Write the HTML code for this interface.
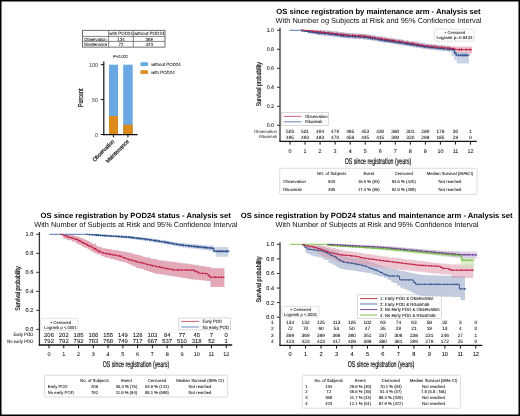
<!DOCTYPE html>
<html><head><meta charset="utf-8"><style>
html,body{margin:0;padding:0;background:#fff;width:520px;height:416px;overflow:hidden}
svg{display:block;position:absolute;left:0;top:0;will-change:transform}
.frame{position:absolute;left:0;top:0;width:520px;height:416px;box-sizing:border-box;border:1.7px solid #000}
</style></head><body>
<svg width="520" height="416" viewBox="0 0 520 416">
<g font-family='"Liberation Sans", sans-serif' text-rendering="geometricPrecision">
<rect x="0.00" y="0.00" width="520.00" height="416.00" fill="#fff"/>
<rect x="82.60" y="30.30" width="82.40" height="16.80" fill="none" stroke="#4a4a4a" stroke-width="0.8"/>
<line x1="82.60" y1="36.40" x2="165.00" y2="36.40" stroke="#555" stroke-width="0.7"/>
<line x1="82.60" y1="41.40" x2="165.00" y2="41.40" stroke="#555" stroke-width="0.7"/>
<line x1="108.60" y1="30.30" x2="108.60" y2="47.10" stroke="#555" stroke-width="0.7"/>
<line x1="133.30" y1="30.30" x2="133.30" y2="47.10" stroke="#555" stroke-width="0.7"/>
<text x="121.00" y="35.00" font-size="4.58" text-anchor="middle" textLength="23.5" lengthAdjust="spacingAndGlyphs" stroke="#222" stroke-width="0.04">with POD24</text>
<text x="149.20" y="35.00" font-size="4.58" text-anchor="middle" textLength="30.5" lengthAdjust="spacingAndGlyphs" stroke="#222" stroke-width="0.04">without POD24</text>
<text x="84.20" y="40.50" font-size="4.58" textLength="22.5" lengthAdjust="spacingAndGlyphs" stroke="#222" stroke-width="0.04">Observation</text>
<text x="121.00" y="40.50" font-size="4.58" text-anchor="middle" textLength="7.34" lengthAdjust="spacingAndGlyphs" stroke="#222" stroke-width="0.04">134</text>
<text x="149.20" y="40.50" font-size="4.58" text-anchor="middle" textLength="7.34" lengthAdjust="spacingAndGlyphs" stroke="#222" stroke-width="0.04">369</text>
<text x="84.20" y="45.60" font-size="4.58" textLength="23.0" lengthAdjust="spacingAndGlyphs" stroke="#222" stroke-width="0.04">Maintenance</text>
<text x="121.00" y="45.60" font-size="4.58" text-anchor="middle" textLength="4.89" lengthAdjust="spacingAndGlyphs" stroke="#222" stroke-width="0.04">72</text>
<text x="149.20" y="45.60" font-size="4.58" text-anchor="middle" textLength="7.34" lengthAdjust="spacingAndGlyphs" stroke="#222" stroke-width="0.04">423</text>
<text x="120.50" y="57.50" font-size="4.16" text-anchor="middle" textLength="15.01" lengthAdjust="spacingAndGlyphs" font-style="italic" stroke="#222" stroke-width="0.04">P&lt;0.001</text>
<rect x="109.00" y="64.70" width="9.00" height="69.80" fill="#69a8e0"/>
<rect x="109.00" y="116.00" width="9.00" height="18.50" fill="#dc8a1c"/>
<rect x="123.20" y="64.70" width="9.50" height="69.80" fill="#69a8e0"/>
<rect x="123.20" y="124.70" width="9.50" height="9.80" fill="#dc8a1c"/>
<line x1="103.80" y1="61.50" x2="103.80" y2="135.20" stroke="#111" stroke-width="1.2"/>
<line x1="103.20" y1="134.60" x2="137.60" y2="134.60" stroke="#111" stroke-width="1.2"/>
<line x1="100.80" y1="64.70" x2="103.80" y2="64.70" stroke="#111" stroke-width="1.0"/>
<text x="98.00" y="66.70" font-size="5.62" text-anchor="end" fill="#444" textLength="9.01" lengthAdjust="spacingAndGlyphs" stroke="#444" stroke-width="0.04">100</text>
<line x1="100.80" y1="99.60" x2="103.80" y2="99.60" stroke="#111" stroke-width="1.0"/>
<text x="98.00" y="101.60" font-size="5.62" text-anchor="end" fill="#444" textLength="6.01" lengthAdjust="spacingAndGlyphs" stroke="#444" stroke-width="0.04">50</text>
<line x1="100.80" y1="134.50" x2="103.80" y2="134.50" stroke="#111" stroke-width="1.0"/>
<text x="98.00" y="136.50" font-size="5.62" text-anchor="end" fill="#444" textLength="3.0" lengthAdjust="spacingAndGlyphs" stroke="#444" stroke-width="0.04">0</text>
<line x1="113.40" y1="134.60" x2="113.40" y2="137.40" stroke="#111" stroke-width="1.0"/>
<line x1="127.90" y1="134.60" x2="127.90" y2="137.40" stroke="#111" stroke-width="1.0"/>
<text x="83.20" y="97.80" font-size="7.2" text-anchor="middle" font-weight="500" fill="#111" textLength="18.5" lengthAdjust="spacingAndGlyphs" transform="rotate(-90 83.20 97.80)" stroke="#111" stroke-width="0.2">Percent</text>
<text x="114.80" y="141.80" font-size="5.6" text-anchor="end" font-weight="500" textLength="28.5" lengthAdjust="spacingAndGlyphs" transform="rotate(-45 114.80 141.80)" stroke="#222" stroke-width="0.2">Observation</text>
<text x="129.30" y="142.00" font-size="5.6" text-anchor="end" font-weight="500" textLength="30.2" lengthAdjust="spacingAndGlyphs" transform="rotate(-45 129.30 142.00)" stroke="#222" stroke-width="0.2">Maintenance</text>
<rect x="140.50" y="62.20" width="7.40" height="3.90" fill="#69a8e0"/>
<rect x="140.50" y="70.20" width="7.40" height="3.70" fill="#dc8a1c"/>
<text x="151.20" y="65.80" font-size="4.58" textLength="29.5" lengthAdjust="spacingAndGlyphs" stroke="#222" stroke-width="0.04">without POD24</text>
<text x="151.20" y="73.70" font-size="4.58" textLength="23.5" lengthAdjust="spacingAndGlyphs" stroke="#222" stroke-width="0.04">with POD24</text>
<text x="378.50" y="13.50" font-size="7.6" text-anchor="middle" font-weight="bold" fill="#000" textLength="204.3" lengthAdjust="spacingAndGlyphs">OS since registration by maintenance arm - Analysis set</text>
<text x="378.50" y="22.50" font-size="7.4" text-anchor="middle" fill="#111" textLength="206" lengthAdjust="spacingAndGlyphs">With Number og Subjects at Risk and 95% Confidence Interval</text>
<line x1="280.00" y1="27.80" x2="280.00" y2="141.40" stroke="#333" stroke-width="1.3"/>
<line x1="277.00" y1="125.30" x2="280.00" y2="125.30" stroke="#333" stroke-width="1.0"/>
<text x="274.00" y="127.20" font-size="5.3" text-anchor="end" stroke="#222" stroke-width="0.04">0.0</text>
<line x1="277.00" y1="106.29" x2="280.00" y2="106.29" stroke="#333" stroke-width="1.0"/>
<text x="274.00" y="108.19" font-size="5.3" text-anchor="end" stroke="#222" stroke-width="0.04">0.2</text>
<line x1="277.00" y1="87.28" x2="280.00" y2="87.28" stroke="#333" stroke-width="1.0"/>
<text x="274.00" y="89.18" font-size="5.3" text-anchor="end" stroke="#222" stroke-width="0.04">0.4</text>
<line x1="277.00" y1="68.27" x2="280.00" y2="68.27" stroke="#333" stroke-width="1.0"/>
<text x="274.00" y="70.17" font-size="5.3" text-anchor="end" stroke="#222" stroke-width="0.04">0.6</text>
<line x1="277.00" y1="49.26" x2="280.00" y2="49.26" stroke="#333" stroke-width="1.0"/>
<text x="274.00" y="51.16" font-size="5.3" text-anchor="end" stroke="#222" stroke-width="0.04">0.8</text>
<line x1="277.00" y1="30.25" x2="280.00" y2="30.25" stroke="#333" stroke-width="1.0"/>
<text x="274.00" y="32.15" font-size="5.3" text-anchor="end" stroke="#222" stroke-width="0.04">1.0</text>
<text x="260.60" y="84.20" font-size="6.8" text-anchor="middle" font-weight="500" fill="#111" textLength="44.3" lengthAdjust="spacingAndGlyphs" transform="rotate(-90 260.60 84.20)" stroke="#111" stroke-width="0.2">Survival probability</text>
<line x1="279.40" y1="141.40" x2="476.80" y2="141.40" stroke="#111" stroke-width="1.3"/>
<line x1="290.00" y1="141.40" x2="290.00" y2="144.60" stroke="#111" stroke-width="1.0"/>
<text x="290.00" y="152.60" font-size="5.4" text-anchor="middle" stroke="#222" stroke-width="0.04">0</text>
<line x1="305.04" y1="141.40" x2="305.04" y2="144.60" stroke="#111" stroke-width="1.0"/>
<text x="305.04" y="152.60" font-size="5.4" text-anchor="middle" stroke="#222" stroke-width="0.04">1</text>
<line x1="320.08" y1="141.40" x2="320.08" y2="144.60" stroke="#111" stroke-width="1.0"/>
<text x="320.08" y="152.60" font-size="5.4" text-anchor="middle" stroke="#222" stroke-width="0.04">2</text>
<line x1="335.12" y1="141.40" x2="335.12" y2="144.60" stroke="#111" stroke-width="1.0"/>
<text x="335.12" y="152.60" font-size="5.4" text-anchor="middle" stroke="#222" stroke-width="0.04">3</text>
<line x1="350.16" y1="141.40" x2="350.16" y2="144.60" stroke="#111" stroke-width="1.0"/>
<text x="350.16" y="152.60" font-size="5.4" text-anchor="middle" stroke="#222" stroke-width="0.04">4</text>
<line x1="365.20" y1="141.40" x2="365.20" y2="144.60" stroke="#111" stroke-width="1.0"/>
<text x="365.20" y="152.60" font-size="5.4" text-anchor="middle" stroke="#222" stroke-width="0.04">5</text>
<line x1="380.24" y1="141.40" x2="380.24" y2="144.60" stroke="#111" stroke-width="1.0"/>
<text x="380.24" y="152.60" font-size="5.4" text-anchor="middle" stroke="#222" stroke-width="0.04">6</text>
<line x1="395.28" y1="141.40" x2="395.28" y2="144.60" stroke="#111" stroke-width="1.0"/>
<text x="395.28" y="152.60" font-size="5.4" text-anchor="middle" stroke="#222" stroke-width="0.04">7</text>
<line x1="410.32" y1="141.40" x2="410.32" y2="144.60" stroke="#111" stroke-width="1.0"/>
<text x="410.32" y="152.60" font-size="5.4" text-anchor="middle" stroke="#222" stroke-width="0.04">8</text>
<line x1="425.36" y1="141.40" x2="425.36" y2="144.60" stroke="#111" stroke-width="1.0"/>
<text x="425.36" y="152.60" font-size="5.4" text-anchor="middle" stroke="#222" stroke-width="0.04">9</text>
<line x1="440.40" y1="141.40" x2="440.40" y2="144.60" stroke="#111" stroke-width="1.0"/>
<text x="440.40" y="152.60" font-size="5.4" text-anchor="middle" stroke="#222" stroke-width="0.04">10</text>
<line x1="455.44" y1="141.40" x2="455.44" y2="144.60" stroke="#111" stroke-width="1.0"/>
<text x="455.44" y="152.60" font-size="5.4" text-anchor="middle" stroke="#222" stroke-width="0.04">11</text>
<line x1="470.48" y1="141.40" x2="470.48" y2="144.60" stroke="#111" stroke-width="1.0"/>
<text x="470.48" y="152.60" font-size="5.4" text-anchor="middle" stroke="#222" stroke-width="0.04">12</text>
<text x="378.00" y="163.50" font-size="8.4" text-anchor="middle" font-weight="500" fill="#111" textLength="66.6" lengthAdjust="spacingAndGlyphs" stroke="#111" stroke-width="0.2">OS since registration (years)</text>
<text x="290.00" y="133.00" font-size="4.8" text-anchor="middle" stroke="#222" stroke-width="0.04">503</text>
<text x="290.00" y="138.80" font-size="4.8" text-anchor="middle" stroke="#222" stroke-width="0.04">495</text>
<text x="305.04" y="133.00" font-size="4.8" text-anchor="middle" stroke="#222" stroke-width="0.04">501</text>
<text x="305.04" y="138.80" font-size="4.8" text-anchor="middle" stroke="#222" stroke-width="0.04">493</text>
<text x="320.08" y="133.00" font-size="4.8" text-anchor="middle" stroke="#222" stroke-width="0.04">494</text>
<text x="320.08" y="138.80" font-size="4.8" text-anchor="middle" stroke="#222" stroke-width="0.04">483</text>
<text x="335.12" y="133.00" font-size="4.8" text-anchor="middle" stroke="#222" stroke-width="0.04">479</text>
<text x="335.12" y="138.80" font-size="4.8" text-anchor="middle" stroke="#222" stroke-width="0.04">470</text>
<text x="350.16" y="133.00" font-size="4.8" text-anchor="middle" stroke="#222" stroke-width="0.04">465</text>
<text x="350.16" y="138.80" font-size="4.8" text-anchor="middle" stroke="#222" stroke-width="0.04">458</text>
<text x="365.20" y="133.00" font-size="4.8" text-anchor="middle" stroke="#222" stroke-width="0.04">453</text>
<text x="365.20" y="138.80" font-size="4.8" text-anchor="middle" stroke="#222" stroke-width="0.04">445</text>
<text x="380.24" y="133.00" font-size="4.8" text-anchor="middle" stroke="#222" stroke-width="0.04">430</text>
<text x="380.24" y="138.80" font-size="4.8" text-anchor="middle" stroke="#222" stroke-width="0.04">415</text>
<text x="395.28" y="133.00" font-size="4.8" text-anchor="middle" stroke="#222" stroke-width="0.04">380</text>
<text x="395.28" y="138.80" font-size="4.8" text-anchor="middle" stroke="#222" stroke-width="0.04">390</text>
<text x="410.32" y="133.00" font-size="4.8" text-anchor="middle" stroke="#222" stroke-width="0.04">301</text>
<text x="410.32" y="138.80" font-size="4.8" text-anchor="middle" stroke="#222" stroke-width="0.04">320</text>
<text x="425.36" y="133.00" font-size="4.8" text-anchor="middle" stroke="#222" stroke-width="0.04">289</text>
<text x="425.36" y="138.80" font-size="4.8" text-anchor="middle" stroke="#222" stroke-width="0.04">298</text>
<text x="440.40" y="133.00" font-size="4.8" text-anchor="middle" stroke="#222" stroke-width="0.04">178</text>
<text x="440.40" y="138.80" font-size="4.8" text-anchor="middle" stroke="#222" stroke-width="0.04">185</text>
<text x="455.44" y="133.00" font-size="4.8" text-anchor="middle" stroke="#222" stroke-width="0.04">30</text>
<text x="455.44" y="138.80" font-size="4.8" text-anchor="middle" stroke="#222" stroke-width="0.04">29</text>
<text x="470.48" y="133.00" font-size="4.8" text-anchor="middle" stroke="#222" stroke-width="0.04">1</text>
<text x="470.48" y="138.80" font-size="4.8" text-anchor="middle" stroke="#222" stroke-width="0.04">0</text>
<text x="277.00" y="132.90" font-size="4.37" text-anchor="end" fill="#333" textLength="23" lengthAdjust="spacingAndGlyphs" stroke="#333" stroke-width="0.04">Observation</text>
<text x="277.00" y="138.40" font-size="4.37" text-anchor="end" fill="#333" textLength="18" lengthAdjust="spacingAndGlyphs" stroke="#333" stroke-width="0.04">Rituximab</text>
<rect x="281.80" y="112.40" width="46.50" height="13.00" fill="#fff" stroke="#c8c8c8" stroke-width="0.7"/>
<line x1="283.80" y1="116.40" x2="301.40" y2="116.40" stroke="#d0607a" stroke-width="1.0"/>
<line x1="283.80" y1="121.80" x2="301.40" y2="121.80" stroke="#6a86b8" stroke-width="1.0"/>
<text x="305.00" y="117.90" font-size="4.34" textLength="22.5" lengthAdjust="spacingAndGlyphs" stroke="#222" stroke-width="0.04">Observation</text>
<text x="305.00" y="123.30" font-size="4.34" textLength="17.5" lengthAdjust="spacingAndGlyphs" stroke="#222" stroke-width="0.04">Rituximab</text>
<rect x="434.80" y="29.20" width="39.40" height="12.00" fill="#fff" stroke="#cfcfcf" stroke-width="0.6" rx="0.8"/>
<text x="454.50" y="34.20" font-size="4.26" text-anchor="middle" textLength="21" lengthAdjust="spacingAndGlyphs" stroke="#222" stroke-width="0.04">+ Censored</text>
<text x="454.50" y="39.40" font-size="4.26" text-anchor="middle" textLength="36.2" lengthAdjust="spacingAndGlyphs" stroke="#222" stroke-width="0.04">Logrank p=0.8433</text>
<g>
<path d="M290.00,30.30 L326.12,30.30 L326.12,30.57 L328.21,30.57 L328.21,30.80 L330.55,30.80 L330.55,31.05 L333.85,31.05 L333.85,31.43 L337.93,31.43 L337.93,31.92 L341.11,31.92 L341.11,32.31 L343.87,32.31 L343.87,32.64 L348.01,32.64 L348.01,33.03 L349.92,33.03 L349.92,33.15 L353.78,33.15 L353.78,33.39 L356.28,33.39 L356.28,33.55 L358.42,33.55 L358.42,33.68 L360.50,33.68 L360.50,33.82 L363.05,33.82 L363.05,33.98 L366.80,33.98 L366.80,34.41 L369.04,34.41 L369.04,34.78 L372.23,34.78 L372.23,35.32 L375.57,35.32 L375.57,35.89 L378.26,35.89 L378.26,36.34 L381.38,36.34 L381.38,36.81 L383.33,36.81 L383.33,37.10 L385.27,37.10 L385.27,37.39 L387.56,37.39 L387.56,37.74 L391.00,37.74 L391.00,38.25 L393.82,38.25 L393.82,38.67 L396.38,38.67 L396.38,39.06 L399.58,39.06 L399.58,39.54 L402.47,39.54 L402.47,39.98 L404.99,39.98 L404.99,40.39 L408.70,40.39 L408.70,41.01 L412.17,41.01 L412.17,41.58 L414.56,41.58 L414.56,41.97 L417.74,41.97 L417.74,42.50 L420.80,42.50 L420.80,43.01 L424.70,43.01 L424.70,43.65 L428.25,43.65 L428.25,44.02 L430.74,44.02 L430.74,44.27 L434.89,44.27 L434.89,44.69 L436.98,44.69 L436.98,44.90 L439.78,44.90 L439.78,45.18 L443.40,45.18 L443.40,45.54 L445.56,45.54 L445.56,45.76 L448.53,45.76 L448.53,46.06 L450.43,46.06 L450.43,46.26 L453.83,46.26 L453.83,46.51 L472.00,46.51 L472.00,53.70 L455.83,53.70 L455.83,51.83 L451.93,51.83 L451.93,51.43 L448.26,51.43 L448.26,51.03 L444.30,51.03 L444.30,50.84 L442.37,50.84 L442.37,50.50 L438.95,50.50 L438.95,50.17 L435.67,50.17 L435.67,49.86 L432.63,49.86 L432.63,49.52 L429.17,49.52 L429.17,49.11 L425.09,49.11 L425.09,48.59 L421.93,48.59 L421.93,48.15 L419.24,48.15 L419.24,47.69 L416.44,47.69 L416.44,47.39 L414.63,47.39 L414.63,46.98 L412.20,46.98 L412.20,46.45 L408.98,46.45 L408.98,45.96 L406.02,45.96 L406.02,45.57 L403.66,45.57 L403.66,45.20 L401.30,45.20 L401.30,44.86 L399.08,44.86 L399.08,44.54 L396.92,44.54 L396.92,43.92 L392.82,43.92 L392.82,43.34 L388.90,43.34 L388.90,42.94 L386.23,42.94 L386.23,42.52 L383.44,42.52 L383.44,42.15 L380.97,42.15 L380.97,41.55 L377.10,41.55 L377.10,40.91 L373.33,40.91 L373.33,40.25 L369.41,40.25 L369.41,39.72 L366.29,39.72 L366.29,39.40 L363.41,39.40 L363.41,39.27 L361.42,39.27 L361.42,39.03 L357.53,39.03 L357.53,38.86 L354.79,38.86 L354.79,38.70 L352.40,38.70 L352.40,38.57 L350.29,38.57 L350.29,38.34 L346.64,38.34 L346.64,38.14 L344.70,38.14 L344.70,37.89 L342.62,37.89 L342.62,37.62 L340.42,37.62 L340.42,37.27 L337.51,37.27 L337.51,37.04 L335.65,37.04 L335.65,36.63 L332.25,36.63 L332.25,36.34 L329.52,36.34 L329.52,36.07 L327.04,36.07 L327.04,35.67 L323.27,35.67 L323.27,35.23 L319.08,35.23 L319.08,34.82 L315.73,34.82 L315.73,33.75 L312.25,33.75 L312.25,33.15 L310.30,33.15 L310.30,32.11 L306.91,32.11 L306.91,31.21 L303.97,31.21 L303.97,30.30 L290.00,30.30 Z" fill="#e8b2c0" fill-opacity="0.8"/>
<path d="M290.00,30.30 L325.90,30.30 L325.90,30.55 L328.58,30.55 L328.58,30.84 L330.67,30.84 L330.67,31.06 L334.51,31.06 L334.51,31.50 L338.69,31.50 L338.69,32.01 L341.61,32.01 L341.61,32.37 L344.57,32.37 L344.57,32.73 L346.58,32.73 L346.58,32.94 L348.62,32.94 L348.62,33.07 L351.25,33.07 L351.25,33.23 L353.68,33.23 L353.68,33.39 L357.47,33.39 L357.47,33.62 L359.66,33.62 L359.66,33.76 L361.51,33.76 L361.51,33.88 L365.60,33.88 L365.60,34.20 L368.66,34.20 L368.66,34.72 L370.82,34.72 L370.82,35.08 L373.92,35.08 L373.92,35.61 L375.78,35.61 L375.78,35.92 L378.85,35.92 L378.85,36.44 L383.00,36.44 L383.00,37.06 L386.87,37.06 L386.87,37.63 L390.34,37.63 L390.34,38.15 L392.77,38.15 L392.77,38.52 L395.45,38.52 L395.45,38.92 L397.65,38.92 L397.65,39.25 L401.30,39.25 L401.30,39.80 L404.38,39.80 L404.38,40.29 L408.05,40.29 L408.05,40.90 L410.64,40.90 L410.64,41.33 L412.98,41.33 L412.98,41.71 L416.73,41.71 L416.73,42.33 L420.89,42.33 L420.89,43.02 L424.74,43.02 L424.74,43.66 L428.47,43.66 L428.47,44.05 L432.23,44.05 L432.23,44.42 L435.81,44.42 L435.81,44.78 L438.15,44.78 L438.15,45.02 L441.20,45.02 L441.20,45.32 L443.85,45.32 L443.85,45.58 L445.72,45.58 L445.72,45.77 L447.59,45.77 L447.59,45.96 L450.06,45.96 L450.06,47.55 L452.48,47.55 L452.48,49.39 L455.94,49.39 L455.94,52.00 L460.04,52.00 L460.04,52.50 L469.00,52.50 L469.00,63.50 L456.70,63.50 L456.70,59.70 L453.90,59.70 L453.90,56.29 L451.48,56.29 L451.48,51.78 L448.27,51.78 L448.27,51.19 L445.89,51.19 L445.89,50.94 L443.39,50.94 L443.39,50.70 L440.98,50.70 L440.98,50.47 L438.68,50.47 L438.68,50.09 L434.89,50.09 L434.89,49.70 L431.00,49.70 L431.00,49.42 L428.16,49.42 L428.16,48.95 L424.12,48.95 L424.12,48.45 L421.06,48.45 L421.06,47.89 L417.70,47.89 L417.70,47.21 L413.57,47.21 L413.57,46.91 L411.73,46.91 L411.73,46.56 L409.62,46.56 L409.62,46.04 L406.50,46.04 L406.50,45.61 L403.86,45.61 L403.86,45.07 L400.48,45.07 L400.48,44.45 L396.33,44.45 L396.33,43.88 L392.55,43.88 L392.55,43.56 L390.40,43.56 L390.40,43.00 L386.66,43.00 L386.66,42.41 L382.69,42.41 L382.69,42.09 L380.53,42.09 L380.53,41.77 L378.42,41.77 L378.42,41.40 L376.21,41.40 L376.21,40.80 L372.67,40.80 L372.67,40.11 L368.60,40.11 L368.60,39.64 L365.84,39.64 L365.84,39.38 L363.09,39.38 L363.09,39.12 L358.96,39.12 L358.96,38.88 L355.23,38.88 L355.23,38.72 L352.64,38.72 L352.64,38.49 L348.94,38.49 L348.94,38.35 L346.71,38.35 L346.71,38.03 L343.77,38.03 L343.77,37.59 L340.17,37.59 L340.17,37.14 L336.49,37.14 L336.49,36.66 L332.50,36.66 L332.50,36.29 L329.12,36.29 L329.12,36.08 L327.12,36.08 L327.12,35.69 L323.40,35.69 L323.40,35.33 L320.03,35.33 L320.03,35.01 L317.08,35.01 L317.08,34.06 L313.26,34.06 L313.26,32.85 L309.30,32.85 L309.30,31.83 L306.00,31.83 L306.00,31.13 L303.71,31.13 L303.71,30.44 L301.44,30.44 L301.44,30.30 L290.00,30.30 Z" fill="#b4c0d8" fill-opacity="0.7"/>
</g>
<path d="M289.6,30.3 H302" stroke="#4a6aa8" stroke-width="0.9"/>
<path d="M301.00,30.90 L303.65,30.90 L303.65,31.22 L305.52,31.22 L305.52,31.44 L308.19,31.44 L308.19,31.76 L310.19,31.76 L310.19,32.00 L312.24,32.00 L312.24,32.25 L314.28,32.25 L314.28,32.49 L315.51,32.49 L315.51,32.64 L317.41,32.64 L317.41,32.85 L318.91,32.85 L318.91,33.01 L320.11,33.01 L320.11,33.14 L322.59,33.14 L322.59,33.40 L324.07,33.40 L324.07,33.56 L326.02,33.56 L326.02,33.77 L328.39,33.77 L328.39,34.02 L330.48,34.02 L330.48,34.24 L332.20,34.24 L332.20,34.42 L334.23,34.42 L334.23,34.67 L336.32,34.67 L336.32,34.92 L338.77,34.92 L338.77,35.22 L340.14,35.22 L340.14,35.39 L342.24,35.39 L342.24,35.64 L343.83,35.64 L343.83,35.84 L345.48,35.84 L345.48,36.04 L347.91,36.04 L347.91,36.22 L349.92,36.22 L349.92,36.35 L352.02,36.35 L352.02,36.48 L354.44,36.48 L354.44,36.63 L357.10,36.63 L357.10,36.80 L359.01,36.80 L359.01,36.92 L361.19,36.92 L361.19,37.06 L363.20,37.06 L363.20,37.19 L365.22,37.19 L365.22,37.34 L367.53,37.34 L367.53,37.73 L369.45,37.73 L369.45,38.05 L371.50,38.05 L371.50,38.40 L373.47,38.40 L373.47,38.73 L376.17,38.73 L376.17,39.19 L378.49,39.19 L378.49,39.58 L381.09,39.58 L381.09,39.97 L383.80,39.97 L383.80,40.38 L385.42,40.38 L385.42,40.62 L387.51,40.62 L387.51,40.93 L390.22,40.93 L390.22,41.33 L392.77,41.33 L392.77,41.71 L394.19,41.71 L394.19,41.93 L395.58,41.93 L395.58,42.14 L397.49,42.14 L397.49,42.42 L398.80,42.42 L398.80,42.62 L400.39,42.62 L400.39,42.86 L401.71,42.86 L401.71,43.06 L403.98,43.06 L403.98,43.43 L406.43,43.43 L406.43,43.83 L409.07,43.83 L409.07,44.27 L410.51,44.27 L410.51,44.51 L412.86,44.51 L412.86,44.89 L415.12,44.89 L415.12,45.27 L416.54,45.27 L416.54,45.50 L419.16,45.50 L419.16,45.93 L421.91,45.93 L421.91,46.39 L423.46,46.39 L423.46,46.64 L426.18,46.64 L426.18,47.02 L428.02,47.02 L428.02,47.20 L430.00,47.20 L430.00,47.40 L432.78,47.40 L432.78,47.68 L435.31,47.68 L435.31,47.93 L436.77,47.93 L436.77,48.08 L438.66,48.08 L438.66,48.27 L440.69,48.27 L440.69,48.47 L442.43,48.47 L442.43,48.64 L443.94,48.64 L443.94,48.79 L445.65,48.79 L445.65,48.97 L448.01,48.97 L448.01,49.20 L449.24,49.20 L449.24,49.34 L451.33,49.34 L451.33,49.56 L453.23,49.56 L453.23,49.77 L454.46,49.77 L454.46,53.25 L456.19,53.25 L456.19,55.20 L469.50,55.20" fill="none" stroke="#274e8e" stroke-width="1.1"/>
<path d="M308.40,30.36V33.16M309.85,30.36V33.16M311.69,30.60V33.40M312.98,30.85V33.65M316.05,31.24V34.04M317.90,31.45V34.25M319.41,31.61V34.41M321.63,31.74V34.54M325.01,32.16V34.96M328.18,32.37V35.17M330.00,32.62V35.42M331.56,32.84V35.64M334.96,33.27V36.07M337.53,33.52V36.32M340.42,33.99V36.79M341.83,33.99V36.79M343.17,34.24V37.04M346.02,34.64V37.44M348.24,34.82V37.62M349.61,34.82V37.62M353.07,35.08V37.88M355.79,35.23V38.03M358.91,35.40V38.20M360.31,35.52V38.32M363.57,35.79V38.59M364.93,35.79V38.59M368.20,36.33V39.13M370.49,36.65V39.45M372.50,37.00V39.80M375.03,37.33V40.13M378.45,37.79V40.59M380.30,38.18V40.98M381.81,38.57V41.37M384.27,38.98V41.78M386.04,39.22V42.02M387.51,39.22V42.02M389.09,39.53V42.33M390.41,39.93V42.73M392.10,39.93V42.73M394.05,40.31V43.11M395.98,40.74V43.54M399.00,41.22V44.02M400.90,41.46V44.26M403.30,41.66V44.46M404.93,42.03V44.83M406.96,42.43V45.23M408.20,42.43V45.23M410.00,42.87V45.67M411.24,43.11V45.91M414.20,43.49V46.29M416.72,44.10V46.90M418.38,44.10V46.90M420.72,44.53V47.33M424.16,45.24V48.04M425.61,45.24V48.04M428.78,45.80V48.60M431.02,46.00V48.80M433.40,46.28V49.08M436.61,46.53V49.33M438.75,46.87V49.67M441.17,47.07V49.87M444.02,47.39V50.19M447.58,47.57V50.37M449.60,47.94V50.74M452.80,48.16V50.96M455.69,51.85V54.65M458.42,53.80V56.60M460.59,53.80V56.60M462.62,53.80V56.60M463.95,53.80V56.60M465.47,53.80V56.60M466.84,53.80V56.60" stroke="#274e8e" stroke-width="0.8" fill="none"/>
<path d="M301.00,29.80 L302.61,29.80 L302.61,29.99 L304.07,29.99 L304.07,30.17 L305.41,30.17 L305.41,30.33 L307.95,30.33 L307.95,30.63 L310.54,30.63 L310.54,30.95 L312.82,30.95 L312.82,31.22 L314.47,31.22 L314.47,31.42 L316.06,31.42 L316.06,31.61 L317.72,31.61 L317.72,31.78 L319.66,31.78 L319.66,31.99 L321.11,31.99 L321.11,32.14 L323.03,32.14 L323.03,32.35 L324.65,32.35 L324.65,32.52 L327.39,32.52 L327.39,32.81 L330.14,32.81 L330.14,33.10 L332.22,33.10 L332.22,33.33 L333.81,33.33 L333.81,33.52 L336.55,33.52 L336.55,33.85 L338.25,33.85 L338.25,34.06 L340.02,34.06 L340.02,34.27 L341.22,34.27 L341.22,34.42 L343.03,34.42 L343.03,34.64 L344.99,34.64 L344.99,34.88 L346.99,34.88 L346.99,35.06 L348.52,35.06 L348.52,35.16 L350.52,35.16 L350.52,35.29 L351.73,35.29 L351.73,35.36 L353.35,35.36 L353.35,35.46 L354.70,35.46 L354.70,35.55 L356.54,35.55 L356.54,35.67 L357.80,35.67 L357.80,35.75 L359.04,35.75 L359.04,35.82 L360.73,35.82 L360.73,35.93 L362.30,35.93 L362.30,36.03 L364.44,36.03 L364.44,36.16 L366.48,36.16 L366.48,36.45 L368.88,36.45 L368.88,36.86 L371.14,36.86 L371.14,37.24 L373.48,37.24 L373.48,37.63 L376.09,37.63 L376.09,38.08 L377.91,38.08 L377.91,38.38 L379.63,38.38 L379.63,38.65 L382.41,38.65 L382.41,39.07 L383.85,39.07 L383.85,39.28 L386.21,39.28 L386.21,39.63 L388.44,39.63 L388.44,39.97 L389.71,39.97 L389.71,40.16 L392.24,40.16 L392.24,40.54 L394.87,40.54 L394.87,40.93 L397.07,40.93 L397.07,41.26 L399.45,41.26 L399.45,41.62 L401.95,41.62 L401.95,41.99 L403.37,41.99 L403.37,42.23 L405.41,42.23 L405.41,42.56 L407.41,42.56 L407.41,42.89 L409.95,42.89 L409.95,43.31 L412.44,43.31 L412.44,43.72 L414.96,43.72 L414.96,44.14 L417.09,44.14 L417.09,44.49 L419.72,44.49 L419.72,44.93 L422.02,44.93 L422.02,45.31 L424.33,45.31 L424.33,45.69 L425.89,45.69 L425.89,45.89 L427.14,45.89 L427.14,46.01 L428.56,46.01 L428.56,46.16 L430.33,46.16 L430.33,46.33 L431.70,46.33 L431.70,46.47 L434.24,46.47 L434.24,46.72 L436.33,46.72 L436.33,46.93 L438.54,46.93 L438.54,47.15 L440.74,47.15 L440.74,47.37 L443.03,47.37 L443.03,47.60 L445.01,47.60 L445.01,47.80 L446.22,47.80 L446.22,47.92 L448.69,47.92 L448.69,48.18 L451.09,48.18 L451.09,48.44 L453.09,48.44 L453.09,48.66 L455.15,48.66 L455.15,49.60 L472.00,49.60" fill="none" stroke="#c0143c" stroke-width="0.9"/>
<path d="M313.60,29.92V32.52M317.18,30.31V32.91M320.36,30.69V33.29M323.88,31.05V33.65M328.14,31.51V34.11M332.70,32.03V34.63M336.72,32.55V35.15M340.84,32.97V35.57M342.92,33.12V35.72M345.25,33.58V36.18M347.96,33.76V36.36M352.44,34.06V36.66M355.33,34.25V36.85M359.18,34.52V37.12M361.02,34.63V37.23M363.04,34.73V37.33M365.81,34.86V37.46M370.03,35.56V38.16M374.32,36.33V38.93M378.55,37.08V39.68M381.40,37.35V39.95M385.06,37.98V40.58M388.53,38.67V41.27M392.01,38.86V41.46M394.24,39.24V41.84M399.25,39.96V42.56M401.77,40.32V42.92M407.09,41.26V43.86M412.26,42.01V44.61M414.13,42.42V45.02M417.58,43.19V45.79M422.33,44.01V46.61M427.61,44.71V47.31M431.03,45.03V47.63M433.80,45.17V47.77M436.35,45.63V48.23M441.56,46.07V48.67M444.12,46.30V48.90M448.01,46.62V49.22M450.32,46.88V49.48M454.01,47.36V49.96M459.24,48.30V50.90M461.51,48.30V50.90M466.27,48.30V50.90M469.90,48.30V50.90" stroke="#c0143c" stroke-width="0.8" fill="none"/>
<rect x="279.70" y="168.30" width="197.30" height="26.10" fill="#fff" stroke="#cfcfcf" stroke-width="0.7" rx="1"/>
<text x="331.60" y="174.70" font-size="4.37" text-anchor="middle" textLength="29.41" lengthAdjust="spacingAndGlyphs" stroke="#222" stroke-width="0.04">NO. of Subjects</text>
<text x="368.80" y="174.70" font-size="4.37" text-anchor="middle" textLength="10.74" lengthAdjust="spacingAndGlyphs" stroke="#222" stroke-width="0.04">Event</text>
<text x="403.80" y="174.70" font-size="4.37" text-anchor="middle" textLength="18.21" lengthAdjust="spacingAndGlyphs" stroke="#222" stroke-width="0.04">Censored</text>
<text x="450.00" y="174.70" font-size="4.37" text-anchor="middle" textLength="46.45" lengthAdjust="spacingAndGlyphs" stroke="#222" stroke-width="0.04">Median Survival (95%CI)</text>
<text x="283.20" y="182.60" font-size="4.37" textLength="22.65" lengthAdjust="spacingAndGlyphs" stroke="#222" stroke-width="0.04">Observation</text>
<text x="283.20" y="190.80" font-size="4.37" textLength="18.67" lengthAdjust="spacingAndGlyphs" stroke="#222" stroke-width="0.04">Rituximab</text>
<text x="331.60" y="182.60" font-size="4.37" text-anchor="middle" textLength="7.01" lengthAdjust="spacingAndGlyphs" stroke="#222" stroke-width="0.04">503</text>
<text x="368.80" y="182.60" font-size="4.37" text-anchor="middle" textLength="21.71" lengthAdjust="spacingAndGlyphs" stroke="#222" stroke-width="0.04">16.5 % (83)</text>
<text x="403.80" y="182.60" font-size="4.37" text-anchor="middle" textLength="24.05" lengthAdjust="spacingAndGlyphs" stroke="#222" stroke-width="0.04">83.5 % (420)</text>
<text x="450.00" y="182.60" font-size="4.37" text-anchor="middle" textLength="22.88" lengthAdjust="spacingAndGlyphs" stroke="#222" stroke-width="0.04">Not reached</text>
<text x="331.60" y="190.80" font-size="4.37" text-anchor="middle" textLength="7.01" lengthAdjust="spacingAndGlyphs" stroke="#222" stroke-width="0.04">495</text>
<text x="368.80" y="190.80" font-size="4.37" text-anchor="middle" textLength="21.71" lengthAdjust="spacingAndGlyphs" stroke="#222" stroke-width="0.04">17.4 % (86)</text>
<text x="403.80" y="190.80" font-size="4.37" text-anchor="middle" textLength="24.05" lengthAdjust="spacingAndGlyphs" stroke="#222" stroke-width="0.04">82.6 % (409)</text>
<text x="450.00" y="190.80" font-size="4.37" text-anchor="middle" textLength="22.88" lengthAdjust="spacingAndGlyphs" stroke="#222" stroke-width="0.04">Not reached</text>
<text x="135.75" y="217.50" font-size="7.6" text-anchor="middle" font-weight="bold" fill="#000" textLength="190.3" lengthAdjust="spacingAndGlyphs">OS since registration by POD24 status - Analysis set</text>
<text x="135.85" y="226.70" font-size="7.4" text-anchor="middle" fill="#111" textLength="203.3" lengthAdjust="spacingAndGlyphs">With Number of Subjects at Risk and 95% Confidence Interval</text>
<line x1="39.40" y1="232.00" x2="39.40" y2="345.60" stroke="#333" stroke-width="1.3"/>
<line x1="36.20" y1="329.40" x2="39.40" y2="329.40" stroke="#333" stroke-width="1.0"/>
<text x="33.40" y="331.40" font-size="5.6" text-anchor="end" stroke="#222" stroke-width="0.04">0.0</text>
<line x1="36.20" y1="310.38" x2="39.40" y2="310.38" stroke="#333" stroke-width="1.0"/>
<text x="33.40" y="312.38" font-size="5.6" text-anchor="end" stroke="#222" stroke-width="0.04">0.2</text>
<line x1="36.20" y1="291.36" x2="39.40" y2="291.36" stroke="#333" stroke-width="1.0"/>
<text x="33.40" y="293.36" font-size="5.6" text-anchor="end" stroke="#222" stroke-width="0.04">0.4</text>
<line x1="36.20" y1="272.34" x2="39.40" y2="272.34" stroke="#333" stroke-width="1.0"/>
<text x="33.40" y="274.34" font-size="5.6" text-anchor="end" stroke="#222" stroke-width="0.04">0.6</text>
<line x1="36.20" y1="253.32" x2="39.40" y2="253.32" stroke="#333" stroke-width="1.0"/>
<text x="33.40" y="255.32" font-size="5.6" text-anchor="end" stroke="#222" stroke-width="0.04">0.8</text>
<line x1="36.20" y1="234.30" x2="39.40" y2="234.30" stroke="#333" stroke-width="1.0"/>
<text x="33.40" y="236.30" font-size="5.6" text-anchor="end" stroke="#222" stroke-width="0.04">1.0</text>
<text x="19.60" y="288.50" font-size="6.8" text-anchor="middle" font-weight="500" fill="#111" textLength="44.3" lengthAdjust="spacingAndGlyphs" transform="rotate(-90 19.60 288.50)" stroke="#111" stroke-width="0.2">Survival probability</text>
<line x1="38.80" y1="345.00" x2="232.20" y2="345.00" stroke="#111" stroke-width="1.3"/>
<line x1="49.00" y1="345.00" x2="49.00" y2="348.20" stroke="#111" stroke-width="1.0"/>
<text x="49.00" y="356.30" font-size="5.5" text-anchor="middle" stroke="#222" stroke-width="0.04">0</text>
<line x1="63.77" y1="345.00" x2="63.77" y2="348.20" stroke="#111" stroke-width="1.0"/>
<text x="63.77" y="356.30" font-size="5.5" text-anchor="middle" stroke="#222" stroke-width="0.04">1</text>
<line x1="78.54" y1="345.00" x2="78.54" y2="348.20" stroke="#111" stroke-width="1.0"/>
<text x="78.54" y="356.30" font-size="5.5" text-anchor="middle" stroke="#222" stroke-width="0.04">2</text>
<line x1="93.31" y1="345.00" x2="93.31" y2="348.20" stroke="#111" stroke-width="1.0"/>
<text x="93.31" y="356.30" font-size="5.5" text-anchor="middle" stroke="#222" stroke-width="0.04">3</text>
<line x1="108.08" y1="345.00" x2="108.08" y2="348.20" stroke="#111" stroke-width="1.0"/>
<text x="108.08" y="356.30" font-size="5.5" text-anchor="middle" stroke="#222" stroke-width="0.04">4</text>
<line x1="122.85" y1="345.00" x2="122.85" y2="348.20" stroke="#111" stroke-width="1.0"/>
<text x="122.85" y="356.30" font-size="5.5" text-anchor="middle" stroke="#222" stroke-width="0.04">5</text>
<line x1="137.62" y1="345.00" x2="137.62" y2="348.20" stroke="#111" stroke-width="1.0"/>
<text x="137.62" y="356.30" font-size="5.5" text-anchor="middle" stroke="#222" stroke-width="0.04">6</text>
<line x1="152.39" y1="345.00" x2="152.39" y2="348.20" stroke="#111" stroke-width="1.0"/>
<text x="152.39" y="356.30" font-size="5.5" text-anchor="middle" stroke="#222" stroke-width="0.04">7</text>
<line x1="167.16" y1="345.00" x2="167.16" y2="348.20" stroke="#111" stroke-width="1.0"/>
<text x="167.16" y="356.30" font-size="5.5" text-anchor="middle" stroke="#222" stroke-width="0.04">8</text>
<line x1="181.93" y1="345.00" x2="181.93" y2="348.20" stroke="#111" stroke-width="1.0"/>
<text x="181.93" y="356.30" font-size="5.5" text-anchor="middle" stroke="#222" stroke-width="0.04">9</text>
<line x1="196.70" y1="345.00" x2="196.70" y2="348.20" stroke="#111" stroke-width="1.0"/>
<text x="196.70" y="356.30" font-size="5.5" text-anchor="middle" stroke="#222" stroke-width="0.04">10</text>
<line x1="211.47" y1="345.00" x2="211.47" y2="348.20" stroke="#111" stroke-width="1.0"/>
<text x="211.47" y="356.30" font-size="5.5" text-anchor="middle" stroke="#222" stroke-width="0.04">11</text>
<line x1="226.24" y1="345.00" x2="226.24" y2="348.20" stroke="#111" stroke-width="1.0"/>
<text x="226.24" y="356.30" font-size="5.5" text-anchor="middle" stroke="#222" stroke-width="0.04">12</text>
<text x="136.00" y="367.10" font-size="8.4" text-anchor="middle" font-weight="500" fill="#111" textLength="66.6" lengthAdjust="spacingAndGlyphs" stroke="#111" stroke-width="0.2">OS since registration (years)</text>
<text x="49.00" y="336.60" font-size="5.9" text-anchor="middle" stroke="#222" stroke-width="0.04">206</text>
<text x="49.00" y="342.90" font-size="5.9" text-anchor="middle" stroke="#222" stroke-width="0.04">792</text>
<text x="63.77" y="336.60" font-size="5.9" text-anchor="middle" stroke="#222" stroke-width="0.04">202</text>
<text x="63.77" y="342.90" font-size="5.9" text-anchor="middle" stroke="#222" stroke-width="0.04">792</text>
<text x="78.54" y="336.60" font-size="5.9" text-anchor="middle" stroke="#222" stroke-width="0.04">185</text>
<text x="78.54" y="342.90" font-size="5.9" text-anchor="middle" stroke="#222" stroke-width="0.04">792</text>
<text x="93.31" y="336.60" font-size="5.9" text-anchor="middle" stroke="#222" stroke-width="0.04">166</text>
<text x="93.31" y="342.90" font-size="5.9" text-anchor="middle" stroke="#222" stroke-width="0.04">783</text>
<text x="108.08" y="336.60" font-size="5.9" text-anchor="middle" stroke="#222" stroke-width="0.04">155</text>
<text x="108.08" y="342.90" font-size="5.9" text-anchor="middle" stroke="#222" stroke-width="0.04">768</text>
<text x="122.85" y="336.60" font-size="5.9" text-anchor="middle" stroke="#222" stroke-width="0.04">149</text>
<text x="122.85" y="342.90" font-size="5.9" text-anchor="middle" stroke="#222" stroke-width="0.04">749</text>
<text x="137.62" y="336.60" font-size="5.9" text-anchor="middle" stroke="#222" stroke-width="0.04">128</text>
<text x="137.62" y="342.90" font-size="5.9" text-anchor="middle" stroke="#222" stroke-width="0.04">717</text>
<text x="152.39" y="336.60" font-size="5.9" text-anchor="middle" stroke="#222" stroke-width="0.04">103</text>
<text x="152.39" y="342.90" font-size="5.9" text-anchor="middle" stroke="#222" stroke-width="0.04">667</text>
<text x="167.16" y="336.60" font-size="5.9" text-anchor="middle" stroke="#222" stroke-width="0.04">84</text>
<text x="167.16" y="342.90" font-size="5.9" text-anchor="middle" stroke="#222" stroke-width="0.04">537</text>
<text x="181.93" y="336.60" font-size="5.9" text-anchor="middle" stroke="#222" stroke-width="0.04">77</text>
<text x="181.93" y="342.90" font-size="5.9" text-anchor="middle" stroke="#222" stroke-width="0.04">510</text>
<text x="196.70" y="336.60" font-size="5.9" text-anchor="middle" stroke="#222" stroke-width="0.04">45</text>
<text x="196.70" y="342.90" font-size="5.9" text-anchor="middle" stroke="#222" stroke-width="0.04">318</text>
<text x="211.47" y="336.60" font-size="5.9" text-anchor="middle" stroke="#222" stroke-width="0.04">7</text>
<text x="211.47" y="342.90" font-size="5.9" text-anchor="middle" stroke="#222" stroke-width="0.04">52</text>
<text x="226.24" y="336.60" font-size="5.9" text-anchor="middle" stroke="#222" stroke-width="0.04">0</text>
<text x="226.24" y="342.90" font-size="5.9" text-anchor="middle" stroke="#222" stroke-width="0.04">1</text>
<text x="33.20" y="336.30" font-size="4.78" text-anchor="end" textLength="19.8" lengthAdjust="spacingAndGlyphs" stroke="#222" stroke-width="0.04">Early POD</text>
<text x="33.20" y="342.60" font-size="4.78" text-anchor="end" textLength="26" lengthAdjust="spacingAndGlyphs" stroke="#222" stroke-width="0.04">No early POD</text>
<rect x="41.00" y="318.40" width="37.00" height="11.90" fill="#fff" stroke="#cfcfcf" stroke-width="0.6" rx="0.8"/>
<text x="60.50" y="323.60" font-size="4.37" text-anchor="middle" textLength="21" lengthAdjust="spacingAndGlyphs" stroke="#222" stroke-width="0.04">+ Censored</text>
<text x="60.50" y="328.60" font-size="4.37" text-anchor="middle" textLength="32.5" lengthAdjust="spacingAndGlyphs" stroke="#222" stroke-width="0.04">Logrank p &lt;.0001</text>
<rect x="178.80" y="318.00" width="51.70" height="11.90" fill="#fff" stroke="#c8c8c8" stroke-width="0.7"/>
<line x1="181.40" y1="321.40" x2="199.00" y2="321.40" stroke="#d0607a" stroke-width="1.0"/>
<line x1="181.40" y1="327.00" x2="199.00" y2="327.00" stroke="#6a86b8" stroke-width="1.0"/>
<text x="202.40" y="323.00" font-size="4.58" textLength="19.5" lengthAdjust="spacingAndGlyphs" stroke="#222" stroke-width="0.04">Early POD</text>
<text x="202.40" y="328.60" font-size="4.58" textLength="26.5" lengthAdjust="spacingAndGlyphs" stroke="#222" stroke-width="0.04">No early POD</text>
<path d="M60.20,234.30 L63.69,234.30 L63.69,234.40 L66.04,234.40 L66.04,234.47 L70.00,234.47 L70.00,235.06 L72.96,235.06 L72.96,235.62 L74.82,235.62 L74.82,235.97 L76.63,235.97 L76.63,236.65 L79.61,236.65 L79.61,237.85 L82.49,237.85 L82.49,239.00 L85.02,239.00 L85.02,240.01 L87.16,240.01 L87.16,241.08 L89.78,241.08 L89.78,242.39 L92.34,242.39 L92.34,243.69 L96.16,243.69 L96.16,245.84 L97.96,245.84 L97.96,246.85 L101.56,246.85 L101.56,248.23 L105.38,248.23 L105.38,248.81 L107.47,248.81 L107.47,249.12 L111.49,249.12 L111.49,249.75 L115.00,249.75 L115.00,250.33 L118.96,250.33 L118.96,250.99 L121.46,250.99 L121.46,251.41 L124.15,251.41 L124.15,251.86 L126.90,251.86 L126.90,252.47 L131.09,252.47 L131.09,253.52 L134.31,253.52 L134.31,254.33 L136.97,254.33 L136.97,255.01 L139.80,255.01 L139.80,255.75 L142.26,255.75 L142.26,256.39 L144.18,256.39 L144.18,256.89 L146.22,256.89 L146.22,257.42 L150.02,257.42 L150.02,258.41 L152.51,258.41 L152.51,259.06 L156.55,259.06 L156.55,259.81 L158.95,259.81 L158.95,260.13 L161.39,260.13 L161.39,260.46 L164.42,260.46 L164.42,260.86 L166.67,260.86 L166.67,261.16 L169.37,261.16 L169.37,261.52 L173.46,261.52 L173.46,262.08 L177.39,262.08 L177.39,262.63 L181.13,262.63 L181.13,263.16 L184.45,263.16 L184.45,263.62 L188.44,263.62 L188.44,264.18 L192.50,264.18 L192.50,264.75 L195.62,264.75 L195.62,265.19 L199.14,265.19 L199.14,265.68 L201.06,265.68 L201.06,265.96 L204.62,265.96 L204.62,266.49 L207.50,266.49 L207.50,266.93 L211.11,266.93 L211.11,268.20 L224.40,268.20 L224.40,286.90 L210.40,286.90 L210.40,280.90 L206.90,280.90 L206.90,280.72 L205.02,280.72 L205.02,280.55 L203.17,280.55 L203.17,280.18 L199.28,280.18 L199.28,279.82 L195.44,279.82 L195.44,279.40 L191.35,279.40 L191.35,278.94 L188.48,278.94 L188.48,278.50 L185.72,278.50 L185.72,278.12 L183.32,278.12 L183.32,277.73 L180.87,277.73 L180.87,277.36 L178.56,277.36 L178.56,276.75 L174.69,276.75 L174.69,276.22 L171.37,276.22 L171.37,275.74 L168.37,275.74 L168.37,275.41 L166.26,275.41 L166.26,274.76 L162.14,274.76 L162.14,274.37 L159.68,274.37 L159.68,274.06 L157.73,274.06 L157.73,273.64 L155.11,273.64 L155.11,272.94 L152.41,272.94 L152.41,271.99 L149.35,271.99 L149.35,271.11 L146.56,271.11 L146.56,270.24 L143.77,270.24 L143.77,269.12 L140.17,269.12 L140.17,267.89 L136.24,267.89 L136.24,266.54 L133.07,266.54 L133.07,265.33 L130.65,265.33 L130.65,264.14 L128.28,264.14 L128.28,263.13 L126.26,263.13 L126.26,262.18 L123.64,262.18 L123.64,261.71 L121.62,261.71 L121.62,261.18 L119.36,261.18 L119.36,260.69 L117.22,260.69 L117.22,260.01 L114.34,260.01 L114.34,259.04 L110.15,259.04 L110.15,257.85 L106.18,257.85 L106.18,257.16 L103.85,257.16 L103.85,256.26 L100.86,256.26 L100.86,254.44 L96.88,254.44 L96.88,253.29 L94.58,253.29 L94.58,252.20 L92.40,252.20 L92.40,251.10 L90.19,251.10 L90.19,249.60 L87.45,249.60 L87.45,247.87 L84.31,247.87 L84.31,246.48 L81.79,246.48 L81.79,244.79 L78.41,244.79 L78.41,243.70 L75.99,243.70 L75.99,241.83 L71.85,241.83 L71.85,240.35 L68.27,240.35 L68.27,239.41 L65.76,239.41 L65.76,238.42 L63.13,238.42 L63.13,235.00 L60.20,235.00 Z" fill="#e2a4b4" fill-opacity="0.95"/>
<path d="M86.00,234.30 L90.02,234.30 L90.02,234.46 L93.81,234.46 L93.81,234.62 L97.66,234.62 L97.66,234.77 L101.79,234.77 L101.79,234.94 L104.19,234.94 L104.19,235.04 L106.25,235.04 L106.25,235.12 L108.42,235.12 L108.42,235.21 L111.47,235.21 L111.47,235.33 L114.91,235.33 L114.91,235.47 L118.97,235.47 L118.97,235.63 L122.50,235.63 L122.50,235.78 L125.86,235.78 L125.86,235.91 L129.49,235.91 L129.49,236.17 L132.39,236.17 L132.39,236.50 L135.51,236.50 L135.51,236.85 L137.41,236.85 L137.41,237.07 L141.09,237.07 L141.09,237.49 L143.44,237.49 L143.44,237.76 L147.45,237.76 L147.45,238.21 L150.80,238.21 L150.80,238.59 L153.33,238.59 L153.33,238.88 L155.44,238.88 L155.44,239.12 L157.84,239.12 L157.84,239.44 L161.17,239.44 L161.17,239.97 L164.65,239.97 L164.65,240.53 L166.71,240.53 L166.71,240.86 L168.68,240.86 L168.68,241.18 L171.74,241.18 L171.74,241.67 L174.94,241.67 L174.94,242.19 L177.67,242.19 L177.67,242.63 L180.01,242.63 L180.01,243.00 L183.25,243.00 L183.25,243.31 L185.08,243.31 L185.08,243.48 L187.60,243.48 L187.60,243.72 L190.51,243.72 L190.51,243.99 L194.61,243.99 L194.61,244.36 L197.95,244.36 L197.95,244.64 L201.88,244.64 L201.88,244.96 L204.82,244.96 L204.82,245.20 L207.18,245.20 L207.18,245.40 L209.57,245.40 L209.57,245.60 L213.68,245.60 L213.68,247.00 L228.30,247.00 L228.30,256.80 L215.63,256.80 L215.63,250.95 L211.59,250.95 L211.59,250.70 L209.34,250.70 L209.34,250.40 L206.75,250.40 L206.75,249.94 L202.71,249.94 L202.71,249.46 L198.52,249.46 L198.52,249.06 L194.96,249.06 L194.96,248.60 L191.04,248.60 L191.04,248.14 L187.09,248.14 L187.09,247.81 L184.34,247.81 L184.34,247.58 L182.40,247.58 L182.40,247.36 L180.47,247.36 L180.47,246.99 L178.33,246.99 L178.33,246.21 L174.19,246.21 L174.19,245.78 L171.88,245.78 L171.88,245.27 L169.14,245.27 L169.14,244.87 L166.99,244.87 L166.99,244.11 L162.91,244.11 L162.91,243.47 L159.51,243.47 L159.51,242.96 L156.71,242.96 L156.71,242.60 L154.38,242.60 L154.38,242.26 L152.13,242.26 L152.13,241.81 L149.14,241.81 L149.14,241.19 L145.05,241.19 L145.05,240.81 L142.55,240.81 L142.55,240.26 L138.92,240.26 L138.92,239.90 L136.59,239.90 L136.59,239.55 L134.23,239.55 L134.23,238.97 L130.47,238.97 L130.47,238.59 L127.92,238.59 L127.92,238.20 L123.79,238.20 L123.79,237.98 L121.50,237.98 L121.50,237.69 L118.49,237.69 L118.49,237.35 L114.91,237.35 L114.91,237.00 L111.20,237.00 L111.20,236.78 L108.92,236.78 L108.92,236.46 L105.49,236.46 L105.49,236.19 L102.68,236.19 L102.68,235.94 L100.07,235.94 L100.07,235.76 L98.18,235.76 L98.18,235.54 L95.84,235.54 L95.84,235.15 L91.82,235.15 L91.82,234.83 L88.42,234.83 L88.42,234.60 L86.00,234.60 Z" fill="#c3cde0" fill-opacity="0.85"/>
<path d="M49.2,234.3 H88" stroke="#4a6aa8" stroke-width="0.9"/>
<path d="M86.00,234.40 L87.73,234.40 L87.73,234.52 L89.20,234.52 L89.20,234.62 L90.41,234.62 L90.41,234.71 L92.05,234.71 L92.05,234.82 L93.82,234.82 L93.82,234.94 L96.54,234.94 L96.54,235.13 L97.94,235.13 L97.94,235.23 L100.69,235.23 L100.69,235.41 L102.22,235.41 L102.22,235.51 L103.99,235.51 L103.99,235.63 L106.50,235.63 L106.50,235.79 L109.02,235.79 L109.02,235.96 L110.91,235.96 L110.91,236.08 L112.19,236.08 L112.19,236.16 L114.15,236.16 L114.15,236.29 L115.94,236.29 L115.94,236.41 L118.61,236.41 L118.61,236.59 L120.12,236.59 L120.12,236.68 L121.91,236.68 L121.91,236.80 L124.54,236.80 L124.54,236.97 L125.79,236.97 L125.79,237.06 L127.65,237.06 L127.65,237.18 L130.15,237.18 L130.15,237.45 L132.57,237.45 L132.57,237.73 L133.84,237.73 L133.84,237.88 L135.09,237.88 L135.09,238.02 L136.39,238.02 L136.39,238.17 L139.06,238.17 L139.06,238.48 L140.68,238.48 L140.68,238.67 L143.07,238.67 L143.07,238.95 L145.71,238.95 L145.71,239.33 L147.45,239.33 L147.45,239.59 L149.09,239.59 L149.09,239.83 L151.82,239.83 L151.82,240.23 L154.01,240.23 L154.01,240.56 L155.63,240.56 L155.63,240.80 L157.97,240.80 L157.97,241.17 L159.68,241.17 L159.68,241.47 L161.32,241.47 L161.32,241.75 L162.53,241.75 L162.53,241.96 L164.94,241.96 L164.94,242.38 L167.60,242.38 L167.60,242.84 L169.82,242.84 L169.82,243.23 L172.53,243.23 L172.53,243.70 L173.76,243.70 L173.76,243.92 L175.34,243.92 L175.34,244.19 L177.30,244.19 L177.30,244.53 L180.03,244.53 L180.03,245.00 L182.76,245.00 L182.76,245.30 L184.57,245.30 L184.57,245.50 L186.18,245.50 L186.18,245.68 L188.06,245.68 L188.06,245.89 L190.05,245.89 L190.05,246.11 L192.74,246.11 L192.74,246.40 L194.23,246.40 L194.23,246.55 L196.72,246.55 L196.72,246.80 L199.10,246.80 L199.10,247.03 L201.61,247.03 L201.61,247.28 L204.05,247.28 L204.05,247.52 L206.22,247.52 L206.22,247.73 L207.95,247.73 L207.95,247.90 L209.66,247.90 L209.66,248.07 L211.44,248.07 L211.44,248.24 L213.89,248.24 L213.89,251.30 L229.30,251.30" fill="none" stroke="#23478a" stroke-width="1.0"/>
<path d="M89.80,233.52V235.72M92.29,233.72V235.92M94.97,233.84V236.04M96.35,233.84V236.04M97.40,234.03V236.23M98.47,234.13V236.33M100.27,234.13V236.33M102.44,234.41V236.61M104.15,234.53V236.73M105.47,234.53V236.73M107.12,234.69V236.89M109.14,234.86V237.06M111.25,234.98V237.18M113.50,235.06V237.26M115.92,235.19V237.39M118.02,235.31V237.51M119.14,235.49V237.69M121.55,235.58V237.78M122.98,235.70V237.90M124.90,235.87V238.07M126.47,235.96V238.16M128.70,236.08V238.28M129.96,236.08V238.28M131.30,236.35V238.55M132.64,236.63V238.83M133.82,236.63V238.83M136.31,236.92V239.12M138.25,237.07V239.27M139.74,237.38V239.58M141.35,237.57V239.77M144.04,237.85V240.05M145.85,238.23V240.43M147.17,238.23V240.43M149.52,238.73V240.93M151.60,238.73V240.93M154.28,239.46V241.66M155.37,239.46V241.66M157.12,239.70V241.90M159.50,240.07V242.27M161.91,240.65V242.85M164.46,240.86V243.06M165.43,241.28V243.48M166.86,241.28V243.48M167.97,241.74V243.94M169.21,241.74V243.94M171.86,242.13V244.33M173.81,242.82V245.02M176.39,243.09V245.29M177.96,243.43V245.63M180.42,243.90V246.10M182.13,243.90V246.10M183.49,244.20V246.40M185.79,244.40V246.60M188.40,244.79V246.99M189.49,244.79V246.99M191.46,245.01V247.21M193.48,245.30V247.50M194.77,245.45V247.65M196.33,245.45V247.65M197.49,245.70V247.90M198.75,245.70V247.90M200.11,245.93V248.13M202.09,246.18V248.38M204.16,246.42V248.62M205.43,246.42V248.62M206.35,246.63V248.83M207.84,246.63V248.83M209.96,246.97V249.17M211.19,246.97V249.17M212.66,247.14V249.34M213.92,250.20V252.40M216.25,250.20V252.40M218.14,250.20V252.40M219.15,250.20V252.40M220.24,250.20V252.40M221.85,250.20V252.40M223.74,250.20V252.40M225.79,250.20V252.40M226.85,250.20V252.40M228.05,250.20V252.40" stroke="#23478a" stroke-width="0.8" fill="none"/>
<path d="M60.20,234.30 L62.06,234.30 L62.06,234.98 L63.71,234.98 L63.71,235.58 L65.40,235.58 L65.40,236.20 L68.13,236.20 L68.13,237.15 L69.83,237.15 L69.83,237.65 L71.93,237.65 L71.93,238.28 L73.70,238.28 L73.70,238.81 L75.57,238.81 L75.57,239.48 L78.15,239.48 L78.15,240.76 L80.95,240.76 L80.95,242.14 L82.73,242.14 L82.73,243.02 L84.25,243.02 L84.25,243.81 L86.61,243.81 L86.61,245.04 L88.14,245.04 L88.14,245.81 L89.35,245.81 L89.35,246.40 L91.99,246.40 L91.99,247.69 L93.87,247.69 L93.87,248.83 L96.38,248.83 L96.38,250.35 L98.23,250.35 L98.23,251.47 L100.84,251.47 L100.84,252.57 L102.78,252.57 L102.78,252.99 L104.24,252.99 L104.24,253.31 L105.46,253.31 L105.46,253.57 L107.54,253.57 L107.54,254.03 L109.77,254.03 L109.77,254.47 L112.43,254.47 L112.43,254.94 L113.77,254.94 L113.77,255.17 L115.96,255.17 L115.96,255.56 L117.76,255.56 L117.76,255.88 L119.76,255.88 L119.76,256.27 L121.20,256.27 L121.20,256.90 L122.85,256.90 L122.85,257.62 L124.88,257.62 L124.88,258.50 L127.57,258.50 L127.57,259.40 L128.94,259.40 L128.94,259.79 L130.92,259.79 L130.92,260.35 L133.41,260.35 L133.41,261.05 L136.16,261.05 L136.16,261.79 L137.67,261.79 L137.67,262.17 L139.08,262.17 L139.08,262.52 L141.79,262.52 L141.79,263.20 L144.55,263.20 L144.55,263.89 L146.52,263.89 L146.52,264.38 L147.80,264.38 L147.80,264.70 L150.49,264.70 L150.49,265.37 L152.31,265.37 L152.31,265.83 L154.95,265.83 L154.95,266.44 L157.15,266.44 L157.15,266.86 L159.67,266.86 L159.67,267.35 L161.12,267.35 L161.12,267.63 L163.58,267.63 L163.58,268.10 L165.13,268.10 L165.13,268.40 L166.98,268.40 L166.98,268.75 L169.54,268.75 L169.54,269.24 L172.06,269.24 L172.06,269.72 L173.56,269.72 L173.56,270.00 L178.97,270.00 L178.97,270.06 L183.78,270.06 L183.78,270.11 L188.77,270.11 L188.77,270.16 L194.55,270.16 L194.55,271.16 L195.81,271.16 L195.81,271.81 L198.35,271.81 L198.35,273.12 L199.74,273.12 L199.74,273.26 L201.90,273.26 L201.90,273.35 L203.98,273.35 L203.98,273.44 L206.18,273.44 L206.18,273.54 L207.87,273.54 L207.87,275.53 L209.75,275.53 L209.75,277.21 L217.93,277.21 L217.93,277.26 L224.40,277.26" fill="none" stroke="#c0143c" stroke-width="0.85"/>
<path d="M66.60,235.30V237.10M68.51,236.25V238.05M71.80,236.75V238.55M75.12,237.91V239.71M77.62,238.58V240.38M79.38,239.86V241.66M81.91,241.24V243.04M83.49,242.12V243.92M85.13,242.91V244.71M87.55,244.14V245.94M89.08,244.91V246.71M91.53,245.50V247.30M94.16,247.93V249.73M95.57,247.93V249.73M98.52,250.57V252.37M100.03,250.57V252.37M103.24,252.09V253.89M106.56,252.67V254.47M109.19,253.13V254.93M110.63,253.57V255.37M113.24,254.04V255.84M115.53,254.27V256.07M119.30,254.98V256.78M120.95,255.37V257.17M124.48,256.72V258.52M128.37,258.50V260.30M131.57,259.45V261.25M134.99,260.15V261.95M136.80,260.89V262.69M140.65,261.62V263.42M143.23,262.30V264.10M147.02,263.48V265.28M150.70,264.47V266.27M152.43,264.93V266.73M155.78,265.54V267.34M159.50,265.96V267.76M160.97,266.45V268.25M163.18,266.73V268.53M166.44,267.50V269.30M168.16,267.85V269.65M171.79,268.34V270.14M173.80,269.10V270.90M177.22,269.10V270.90M178.90,269.10V270.90M181.50,269.16V270.96M185.20,269.21V271.01M187.04,269.21V271.01M189.02,269.26V271.06M191.64,269.26V271.06M193.77,269.26V271.06M195.16,270.26V272.06M196.93,270.91V272.71M198.65,272.22V274.02M202.39,272.45V274.25M205.46,272.54V274.34M209.08,274.63V276.43M210.82,276.31V278.11M214.16,276.31V278.11M215.76,276.31V278.11M218.44,276.36V278.16M221.40,276.36V278.16M223.63,276.36V278.16" stroke="#c0143c" stroke-width="0.8" fill="none"/>
<rect x="44.60" y="375.20" width="183.00" height="21.80" fill="#fff" stroke="#cfcfcf" stroke-width="0.7" rx="1"/>
<text x="94.50" y="382.20" font-size="4.37" text-anchor="middle" textLength="28.48" lengthAdjust="spacingAndGlyphs" stroke="#222" stroke-width="0.04">No. of Subjects</text>
<text x="126.50" y="382.20" font-size="4.37" text-anchor="middle" textLength="10.74" lengthAdjust="spacingAndGlyphs" stroke="#222" stroke-width="0.04">Event</text>
<text x="157.00" y="382.20" font-size="4.37" text-anchor="middle" textLength="18.21" lengthAdjust="spacingAndGlyphs" stroke="#222" stroke-width="0.04">Censored</text>
<text x="200.00" y="382.20" font-size="4.37" text-anchor="middle" textLength="47.62" lengthAdjust="spacingAndGlyphs" stroke="#222" stroke-width="0.04">Median Survival (95% CI)</text>
<text x="47.80" y="387.80" font-size="4.37" textLength="19.84" lengthAdjust="spacingAndGlyphs" stroke="#222" stroke-width="0.04">Early POD</text>
<text x="47.80" y="393.50" font-size="4.37" textLength="25.91" lengthAdjust="spacingAndGlyphs" stroke="#222" stroke-width="0.04">No early POD</text>
<text x="94.50" y="387.80" font-size="4.37" text-anchor="middle" textLength="7.01" lengthAdjust="spacingAndGlyphs" stroke="#222" stroke-width="0.04">206</text>
<text x="126.50" y="387.80" font-size="4.37" text-anchor="middle" textLength="21.71" lengthAdjust="spacingAndGlyphs" stroke="#222" stroke-width="0.04">36.4 % (75)</text>
<text x="157.00" y="387.80" font-size="4.37" text-anchor="middle" textLength="24.05" lengthAdjust="spacingAndGlyphs" stroke="#222" stroke-width="0.04">63.6 % (131)</text>
<text x="200.00" y="387.80" font-size="4.37" text-anchor="middle" textLength="22.88" lengthAdjust="spacingAndGlyphs" stroke="#222" stroke-width="0.04">Not reached</text>
<text x="94.50" y="393.50" font-size="4.37" text-anchor="middle" textLength="7.01" lengthAdjust="spacingAndGlyphs" stroke="#222" stroke-width="0.04">792</text>
<text x="126.50" y="393.50" font-size="4.37" text-anchor="middle" textLength="21.4" lengthAdjust="spacingAndGlyphs" stroke="#222" stroke-width="0.04">11.9 % (94)</text>
<text x="157.00" y="393.50" font-size="4.37" text-anchor="middle" textLength="24.05" lengthAdjust="spacingAndGlyphs" stroke="#222" stroke-width="0.04">88.1 % (698)</text>
<text x="200.00" y="393.50" font-size="4.37" text-anchor="middle" textLength="22.88" lengthAdjust="spacingAndGlyphs" stroke="#222" stroke-width="0.04">Not reached</text>
<text x="376.60" y="217.50" font-size="7.6" text-anchor="middle" font-weight="bold" fill="#000" textLength="271.8" lengthAdjust="spacingAndGlyphs">OS since registration by POD24 status and maintenance arm - Analysis set</text>
<text x="377.00" y="226.70" font-size="7.4" text-anchor="middle" fill="#111" textLength="203" lengthAdjust="spacingAndGlyphs">With Number of Subjects at Risk and 95% Confidence Interval</text>
<line x1="280.00" y1="242.20" x2="280.00" y2="345.60" stroke="#333" stroke-width="1.3"/>
<line x1="276.80" y1="317.20" x2="280.00" y2="317.20" stroke="#333" stroke-width="1.0"/>
<text x="274.00" y="319.20" font-size="5.6" text-anchor="end" stroke="#222" stroke-width="0.04">0.0</text>
<line x1="276.80" y1="302.62" x2="280.00" y2="302.62" stroke="#333" stroke-width="1.0"/>
<text x="274.00" y="304.62" font-size="5.6" text-anchor="end" stroke="#222" stroke-width="0.04">0.2</text>
<line x1="276.80" y1="288.04" x2="280.00" y2="288.04" stroke="#333" stroke-width="1.0"/>
<text x="274.00" y="290.04" font-size="5.6" text-anchor="end" stroke="#222" stroke-width="0.04">0.4</text>
<line x1="276.80" y1="273.46" x2="280.00" y2="273.46" stroke="#333" stroke-width="1.0"/>
<text x="274.00" y="275.46" font-size="5.6" text-anchor="end" stroke="#222" stroke-width="0.04">0.6</text>
<line x1="276.80" y1="258.88" x2="280.00" y2="258.88" stroke="#333" stroke-width="1.0"/>
<text x="274.00" y="260.88" font-size="5.6" text-anchor="end" stroke="#222" stroke-width="0.04">0.8</text>
<line x1="276.80" y1="244.30" x2="280.00" y2="244.30" stroke="#333" stroke-width="1.0"/>
<text x="274.00" y="246.30" font-size="5.6" text-anchor="end" stroke="#222" stroke-width="0.04">1.0</text>
<text x="260.80" y="279.40" font-size="6.8" text-anchor="middle" font-weight="500" fill="#111" textLength="46" lengthAdjust="spacingAndGlyphs" transform="rotate(-90 260.80 279.40)" stroke="#111" stroke-width="0.2">Survival probability</text>
<line x1="279.40" y1="345.40" x2="482.30" y2="345.40" stroke="#111" stroke-width="1.3"/>
<line x1="290.10" y1="345.40" x2="290.10" y2="348.60" stroke="#111" stroke-width="1.0"/>
<text x="290.10" y="356.20" font-size="5.7" text-anchor="middle" stroke="#222" stroke-width="0.04">0</text>
<line x1="305.58" y1="345.40" x2="305.58" y2="348.60" stroke="#111" stroke-width="1.0"/>
<text x="305.58" y="356.20" font-size="5.7" text-anchor="middle" stroke="#222" stroke-width="0.04">1</text>
<line x1="321.05" y1="345.40" x2="321.05" y2="348.60" stroke="#111" stroke-width="1.0"/>
<text x="321.05" y="356.20" font-size="5.7" text-anchor="middle" stroke="#222" stroke-width="0.04">2</text>
<line x1="336.53" y1="345.40" x2="336.53" y2="348.60" stroke="#111" stroke-width="1.0"/>
<text x="336.53" y="356.20" font-size="5.7" text-anchor="middle" stroke="#222" stroke-width="0.04">3</text>
<line x1="352.00" y1="345.40" x2="352.00" y2="348.60" stroke="#111" stroke-width="1.0"/>
<text x="352.00" y="356.20" font-size="5.7" text-anchor="middle" stroke="#222" stroke-width="0.04">4</text>
<line x1="367.48" y1="345.40" x2="367.48" y2="348.60" stroke="#111" stroke-width="1.0"/>
<text x="367.48" y="356.20" font-size="5.7" text-anchor="middle" stroke="#222" stroke-width="0.04">5</text>
<line x1="382.95" y1="345.40" x2="382.95" y2="348.60" stroke="#111" stroke-width="1.0"/>
<text x="382.95" y="356.20" font-size="5.7" text-anchor="middle" stroke="#222" stroke-width="0.04">6</text>
<line x1="398.43" y1="345.40" x2="398.43" y2="348.60" stroke="#111" stroke-width="1.0"/>
<text x="398.43" y="356.20" font-size="5.7" text-anchor="middle" stroke="#222" stroke-width="0.04">7</text>
<line x1="413.90" y1="345.40" x2="413.90" y2="348.60" stroke="#111" stroke-width="1.0"/>
<text x="413.90" y="356.20" font-size="5.7" text-anchor="middle" stroke="#222" stroke-width="0.04">8</text>
<line x1="429.38" y1="345.40" x2="429.38" y2="348.60" stroke="#111" stroke-width="1.0"/>
<text x="429.38" y="356.20" font-size="5.7" text-anchor="middle" stroke="#222" stroke-width="0.04">9</text>
<line x1="444.85" y1="345.40" x2="444.85" y2="348.60" stroke="#111" stroke-width="1.0"/>
<text x="444.85" y="356.20" font-size="5.7" text-anchor="middle" stroke="#222" stroke-width="0.04">10</text>
<line x1="460.33" y1="345.40" x2="460.33" y2="348.60" stroke="#111" stroke-width="1.0"/>
<text x="460.33" y="356.20" font-size="5.7" text-anchor="middle" stroke="#222" stroke-width="0.04">11</text>
<line x1="475.80" y1="345.40" x2="475.80" y2="348.60" stroke="#111" stroke-width="1.0"/>
<text x="475.80" y="356.20" font-size="5.7" text-anchor="middle" stroke="#222" stroke-width="0.04">12</text>
<text x="381.00" y="367.10" font-size="8.4" text-anchor="middle" font-weight="500" fill="#111" textLength="66.6" lengthAdjust="spacingAndGlyphs" stroke="#111" stroke-width="0.2">OS since registration (years)</text>
<text x="290.10" y="324.00" font-size="4.8" text-anchor="middle" stroke="#222" stroke-width="0.04">134</text>
<text x="305.58" y="324.00" font-size="4.8" text-anchor="middle" stroke="#222" stroke-width="0.04">132</text>
<text x="321.05" y="324.00" font-size="4.8" text-anchor="middle" stroke="#222" stroke-width="0.04">125</text>
<text x="336.53" y="324.00" font-size="4.8" text-anchor="middle" stroke="#222" stroke-width="0.04">113</text>
<text x="352.00" y="324.00" font-size="4.8" text-anchor="middle" stroke="#222" stroke-width="0.04">105</text>
<text x="367.48" y="324.00" font-size="4.8" text-anchor="middle" stroke="#222" stroke-width="0.04">102</text>
<text x="382.95" y="324.00" font-size="4.8" text-anchor="middle" stroke="#222" stroke-width="0.04">93</text>
<text x="398.43" y="324.00" font-size="4.8" text-anchor="middle" stroke="#222" stroke-width="0.04">74</text>
<text x="413.90" y="324.00" font-size="4.8" text-anchor="middle" stroke="#222" stroke-width="0.04">63</text>
<text x="429.38" y="324.00" font-size="4.8" text-anchor="middle" stroke="#222" stroke-width="0.04">58</text>
<text x="444.85" y="324.00" font-size="4.8" text-anchor="middle" stroke="#222" stroke-width="0.04">32</text>
<text x="460.33" y="324.00" font-size="4.8" text-anchor="middle" stroke="#222" stroke-width="0.04">3</text>
<text x="475.80" y="324.00" font-size="4.8" text-anchor="middle" stroke="#222" stroke-width="0.04">0</text>
<text x="290.10" y="330.20" font-size="4.8" text-anchor="middle" stroke="#222" stroke-width="0.04">72</text>
<text x="305.58" y="330.20" font-size="4.8" text-anchor="middle" stroke="#222" stroke-width="0.04">70</text>
<text x="321.05" y="330.20" font-size="4.8" text-anchor="middle" stroke="#222" stroke-width="0.04">60</text>
<text x="336.53" y="330.20" font-size="4.8" text-anchor="middle" stroke="#222" stroke-width="0.04">53</text>
<text x="352.00" y="330.20" font-size="4.8" text-anchor="middle" stroke="#222" stroke-width="0.04">50</text>
<text x="367.48" y="330.20" font-size="4.8" text-anchor="middle" stroke="#222" stroke-width="0.04">47</text>
<text x="382.95" y="330.20" font-size="4.8" text-anchor="middle" stroke="#222" stroke-width="0.04">35</text>
<text x="398.43" y="330.20" font-size="4.8" text-anchor="middle" stroke="#222" stroke-width="0.04">29</text>
<text x="413.90" y="330.20" font-size="4.8" text-anchor="middle" stroke="#222" stroke-width="0.04">21</text>
<text x="429.38" y="330.20" font-size="4.8" text-anchor="middle" stroke="#222" stroke-width="0.04">19</text>
<text x="444.85" y="330.20" font-size="4.8" text-anchor="middle" stroke="#222" stroke-width="0.04">13</text>
<text x="460.33" y="330.20" font-size="4.8" text-anchor="middle" stroke="#222" stroke-width="0.04">4</text>
<text x="475.80" y="330.20" font-size="4.8" text-anchor="middle" stroke="#222" stroke-width="0.04">0</text>
<text x="290.10" y="336.60" font-size="4.8" text-anchor="middle" stroke="#222" stroke-width="0.04">369</text>
<text x="305.58" y="336.60" font-size="4.8" text-anchor="middle" stroke="#222" stroke-width="0.04">369</text>
<text x="321.05" y="336.60" font-size="4.8" text-anchor="middle" stroke="#222" stroke-width="0.04">369</text>
<text x="336.53" y="336.60" font-size="4.8" text-anchor="middle" stroke="#222" stroke-width="0.04">366</text>
<text x="352.00" y="336.60" font-size="4.8" text-anchor="middle" stroke="#222" stroke-width="0.04">360</text>
<text x="367.48" y="336.60" font-size="4.8" text-anchor="middle" stroke="#222" stroke-width="0.04">351</text>
<text x="382.95" y="336.60" font-size="4.8" text-anchor="middle" stroke="#222" stroke-width="0.04">337</text>
<text x="398.43" y="336.60" font-size="4.8" text-anchor="middle" stroke="#222" stroke-width="0.04">306</text>
<text x="413.90" y="336.60" font-size="4.8" text-anchor="middle" stroke="#222" stroke-width="0.04">238</text>
<text x="429.38" y="336.60" font-size="4.8" text-anchor="middle" stroke="#222" stroke-width="0.04">231</text>
<text x="444.85" y="336.60" font-size="4.8" text-anchor="middle" stroke="#222" stroke-width="0.04">146</text>
<text x="460.33" y="336.60" font-size="4.8" text-anchor="middle" stroke="#222" stroke-width="0.04">27</text>
<text x="475.80" y="336.60" font-size="4.8" text-anchor="middle" stroke="#222" stroke-width="0.04">1</text>
<text x="290.10" y="343.00" font-size="4.8" text-anchor="middle" stroke="#222" stroke-width="0.04">423</text>
<text x="305.58" y="343.00" font-size="4.8" text-anchor="middle" stroke="#222" stroke-width="0.04">423</text>
<text x="321.05" y="343.00" font-size="4.8" text-anchor="middle" stroke="#222" stroke-width="0.04">423</text>
<text x="336.53" y="343.00" font-size="4.8" text-anchor="middle" stroke="#222" stroke-width="0.04">417</text>
<text x="352.00" y="343.00" font-size="4.8" text-anchor="middle" stroke="#222" stroke-width="0.04">408</text>
<text x="367.48" y="343.00" font-size="4.8" text-anchor="middle" stroke="#222" stroke-width="0.04">398</text>
<text x="382.95" y="343.00" font-size="4.8" text-anchor="middle" stroke="#222" stroke-width="0.04">380</text>
<text x="398.43" y="343.00" font-size="4.8" text-anchor="middle" stroke="#222" stroke-width="0.04">361</text>
<text x="413.90" y="343.00" font-size="4.8" text-anchor="middle" stroke="#222" stroke-width="0.04">299</text>
<text x="429.38" y="343.00" font-size="4.8" text-anchor="middle" stroke="#222" stroke-width="0.04">279</text>
<text x="444.85" y="343.00" font-size="4.8" text-anchor="middle" stroke="#222" stroke-width="0.04">172</text>
<text x="460.33" y="343.00" font-size="4.8" text-anchor="middle" stroke="#222" stroke-width="0.04">25</text>
<text x="475.80" y="343.00" font-size="4.8" text-anchor="middle" stroke="#222" stroke-width="0.04">0</text>
<text x="272.40" y="324.00" font-size="4.8" text-anchor="middle" stroke="#222" stroke-width="0.04">1</text>
<text x="272.40" y="330.20" font-size="4.8" text-anchor="middle" stroke="#222" stroke-width="0.04">2</text>
<text x="272.40" y="336.60" font-size="4.8" text-anchor="middle" stroke="#222" stroke-width="0.04">3</text>
<text x="272.40" y="343.00" font-size="4.8" text-anchor="middle" stroke="#222" stroke-width="0.04">4</text>
<rect x="282.00" y="306.50" width="37.00" height="10.40" fill="#fff" stroke="#cfcfcf" stroke-width="0.6" rx="0.8"/>
<text x="300.50" y="311.30" font-size="4.37" text-anchor="middle" textLength="21" lengthAdjust="spacingAndGlyphs" stroke="#222" stroke-width="0.04">+ Censored</text>
<text x="300.50" y="315.90" font-size="4.37" text-anchor="middle" textLength="33.5" lengthAdjust="spacingAndGlyphs" stroke="#222" stroke-width="0.04">Logrank p &lt;.0001</text>
<rect x="357.40" y="294.80" width="83.90" height="23.50" fill="#fff" stroke="#c8c8c8" stroke-width="0.7"/>
<line x1="360.00" y1="298.60" x2="377.50" y2="298.60" stroke="#c0405a" stroke-width="1.0"/>
<text x="380.00" y="300.15" font-size="4.47" textLength="53.53" lengthAdjust="spacingAndGlyphs" stroke="#222" stroke-width="0.04">1: Early POD &amp; Observation</text>
<line x1="360.00" y1="304.00" x2="377.50" y2="304.00" stroke="#9aaed0" stroke-width="1.6"/>
<text x="380.00" y="305.55" font-size="4.47" textLength="49.47" lengthAdjust="spacingAndGlyphs" stroke="#222" stroke-width="0.04">2: Early POD &amp; Rituximab</text>
<line x1="360.00" y1="309.60" x2="377.50" y2="309.60" stroke="#7a4fa3" stroke-width="1.0"/>
<text x="380.00" y="311.15" font-size="4.47" textLength="59.75" lengthAdjust="spacingAndGlyphs" stroke="#222" stroke-width="0.04">3: No early POD &amp; Observation</text>
<line x1="360.00" y1="315.00" x2="377.50" y2="315.00" stroke="#b2da92" stroke-width="1.6"/>
<text x="380.00" y="316.55" font-size="4.47" textLength="55.68" lengthAdjust="spacingAndGlyphs" stroke="#222" stroke-width="0.04">4: No early POD &amp; Rituximab</text>
<g transform="translate(0,0.5)">
<path d="M302.30,244.30 L305.43,244.30 L305.43,244.50 L308.62,244.50 L308.62,244.71 L312.54,244.71 L312.54,245.16 L314.59,245.16 L314.59,245.45 L318.78,245.45 L318.78,246.04 L322.09,246.04 L322.09,246.53 L324.83,246.53 L324.83,247.48 L328.55,247.48 L328.55,248.77 L330.98,248.77 L330.98,249.61 L335.16,249.61 L335.16,251.10 L338.35,251.10 L338.35,253.17 L341.01,253.17 L341.01,254.90 L344.65,254.90 L344.65,256.28 L347.51,256.28 L347.51,256.69 L349.73,256.69 L349.73,257.02 L353.32,257.02 L353.32,257.53 L355.23,257.53 L355.23,257.81 L359.00,257.81 L359.00,258.36 L361.41,258.36 L361.41,258.97 L364.74,258.97 L364.74,260.07 L368.91,260.07 L368.91,261.46 L372.11,261.46 L372.11,262.52 L375.50,262.52 L375.50,263.65 L378.05,263.65 L378.05,264.49 L379.86,264.49 L379.86,265.09 L381.74,265.09 L381.74,265.72 L383.90,265.72 L383.90,266.43 L387.18,266.43 L387.18,267.28 L390.01,267.28 L390.01,267.90 L393.04,267.90 L393.04,268.57 L396.99,268.57 L396.99,269.44 L399.11,269.44 L399.11,269.90 L401.46,269.90 L401.46,270.42 L404.82,270.42 L404.82,271.16 L406.68,271.16 L406.68,271.57 L408.48,271.57 L408.48,271.97 L411.14,271.97 L411.14,272.55 L413.19,272.55 L413.19,273.00 L415.85,273.00 L415.85,273.59 L418.19,273.59 L418.19,274.10 L421.39,274.10 L421.39,274.54 L424.60,274.54 L424.60,274.62 L426.89,274.62 L426.89,274.69 L430.19,274.69 L430.19,274.78 L433.13,274.78 L433.13,274.85 L435.25,274.85 L435.25,274.91 L439.30,274.91 L439.30,275.02 L441.68,275.02 L441.68,275.09 L443.84,275.09 L443.84,275.14 L445.87,275.14 L445.87,275.20 L449.20,275.20 L449.20,275.29 L453.09,275.29 L453.09,275.39 L456.77,275.39 L456.77,275.49 L465.00,275.49 L465.00,299.50 L460.47,299.50 L460.47,296.49 L456.35,296.49 L456.35,296.41 L453.01,296.41 L453.01,296.36 L450.57,296.36 L450.57,296.29 L447.52,296.29 L447.52,296.22 L443.82,296.22 L443.82,296.15 L440.98,296.15 L440.98,296.09 L437.85,296.09 L437.85,296.03 L435.41,296.03 L435.41,295.96 L431.90,295.96 L431.90,295.87 L428.07,295.87 L428.07,295.80 L424.61,295.80 L424.61,295.72 L421.01,295.72 L421.01,295.00 L418.40,295.00 L418.40,294.18 L416.51,294.18 L416.51,293.16 L414.15,293.16 L414.15,292.26 L412.10,292.26 L412.10,291.24 L409.76,291.24 L409.76,289.99 L406.87,289.99 L406.87,288.43 L403.29,288.43 L403.29,287.16 L400.37,287.16 L400.37,284.96 L396.78,284.96 L396.78,282.54 L392.96,282.54 L392.96,281.39 L391.14,281.39 L391.14,279.16 L387.63,279.16 L387.63,277.18 L383.95,277.18 L383.95,276.00 L380.01,276.00 L380.01,275.43 L378.10,275.43 L378.10,274.67 L375.57,274.67 L375.57,273.91 L373.03,273.91 L373.03,273.24 L370.81,273.24 L370.81,272.51 L367.06,272.51 L367.06,271.95 L363.72,271.95 L363.72,271.45 L360.70,271.45 L360.70,270.91 L357.45,270.91 L357.45,270.53 L355.17,270.53 L355.17,270.24 L353.02,270.24 L353.02,269.70 L348.97,269.70 L348.97,269.28 L345.84,269.28 L345.84,269.04 L344.01,269.04 L344.01,268.55 L340.35,268.55 L340.35,267.62 L338.41,267.62 L338.41,266.32 L336.03,266.32 L336.03,264.79 L333.26,264.79 L333.26,263.10 L330.18,263.10 L330.18,261.92 L328.28,261.92 L328.28,259.44 L324.31,259.44 L324.31,257.98 L321.91,257.98 L321.91,257.09 L318.35,257.09 L318.35,256.08 L314.30,256.08 L314.30,255.36 L311.44,255.36 L311.44,254.05 L308.09,254.05 L308.09,252.72 L305.45,252.72 L305.45,246.00 L302.30,246.00 Z" fill="#b8c3d8" fill-opacity="0.85"/>
<path d="M302.30,244.30 L306.56,244.30 L306.56,244.37 L312.51,244.37 L312.51,244.47 L316.58,244.47 L316.58,244.54 L320.17,244.54 L320.17,244.64 L322.76,244.64 L322.76,245.26 L326.67,245.26 L326.67,246.20 L329.26,246.20 L329.26,246.82 L331.63,246.82 L331.63,247.39 L335.61,247.39 L335.61,248.32 L338.92,248.32 L338.92,249.11 L342.39,249.11 L342.39,249.93 L345.78,249.93 L345.78,250.46 L349.93,250.46 L349.93,251.08 L352.86,251.08 L352.86,251.51 L356.67,251.51 L356.67,252.08 L360.15,252.08 L360.15,252.60 L364.01,252.60 L364.01,253.17 L366.86,253.17 L366.86,253.60 L370.39,253.60 L370.39,254.12 L373.56,254.12 L373.56,254.60 L376.10,254.60 L376.10,254.97 L378.41,254.97 L378.41,255.32 L381.70,255.32 L381.70,255.81 L383.69,255.81 L383.69,256.11 L387.68,256.11 L387.68,256.63 L389.82,256.63 L389.82,256.89 L391.69,256.89 L391.69,257.11 L393.75,257.11 L393.75,257.37 L397.77,257.37 L397.77,257.86 L400.40,257.86 L400.40,258.18 L402.54,258.18 L402.54,258.44 L404.41,258.44 L404.41,258.66 L406.31,258.66 L406.31,258.90 L409.77,258.90 L409.77,259.32 L413.10,259.32 L413.10,259.72 L416.57,259.72 L416.57,260.15 L420.14,260.15 L420.14,260.58 L422.09,260.58 L422.09,260.82 L425.31,260.82 L425.31,261.21 L427.98,261.21 L427.98,261.54 L431.75,261.54 L431.75,261.99 L435.51,261.99 L435.51,262.45 L439.45,262.45 L439.45,262.93 L441.41,262.93 L441.41,263.09 L445.29,263.09 L445.29,263.33 L449.29,263.33 L449.29,264.00 L473.30,264.00 L473.30,277.40 L451.65,277.40 L451.65,274.00 L447.96,274.00 L447.96,273.90 L445.96,273.90 L445.96,273.73 L442.63,273.73 L442.63,273.63 L440.57,273.63 L440.57,273.34 L437.57,273.34 L437.57,272.96 L434.09,272.96 L434.09,272.70 L431.78,272.70 L431.78,272.43 L429.30,272.43 L429.30,271.99 L425.23,271.99 L425.23,271.72 L422.81,271.72 L422.81,271.31 L419.01,271.31 L419.01,271.02 L416.38,271.02 L416.38,270.70 L413.39,270.70 L413.39,270.45 L411.15,270.45 L411.15,270.05 L407.44,270.05 L407.44,269.72 L404.46,269.72 L404.46,269.40 L401.48,269.40 L401.48,269.20 L399.67,269.20 L399.67,268.75 L395.52,268.75 L395.52,268.35 L391.89,268.35 L391.89,268.10 L389.61,268.10 L389.61,267.91 L387.80,267.91 L387.80,267.66 L385.60,267.66 L385.60,267.21 L381.83,267.21 L381.83,266.96 L379.81,266.96 L379.81,266.48 L375.94,266.48 L375.94,266.19 L373.62,266.19 L373.62,265.81 L370.53,265.81 L370.53,265.37 L367.04,265.37 L367.04,265.05 L364.41,265.05 L364.41,264.59 L360.75,264.59 L360.75,264.24 L357.90,264.24 L357.90,263.89 L355.11,263.89 L355.11,263.65 L353.24,263.65 L353.24,263.24 L349.95,263.24 L349.95,262.76 L346.11,262.76 L346.11,262.39 L343.10,262.39 L343.10,261.65 L338.99,261.65 L338.99,260.75 L336.42,260.75 L336.42,259.81 L333.73,259.81 L333.73,258.58 L330.22,258.58 L330.22,257.71 L327.74,257.71 L327.74,256.86 L325.32,256.86 L325.32,256.22 L323.47,256.22 L323.47,255.23 L320.66,255.23 L320.66,253.46 L318.09,253.46 L318.09,251.61 L315.80,251.61 L315.80,249.23 L312.18,249.23 L312.18,248.25 L310.15,248.25 L310.15,247.28 L308.11,247.28 L308.11,246.09 L305.62,246.09 L305.62,244.50 L302.30,244.50 Z" fill="#dc98ab" fill-opacity="0.55"/>
<path d="M327.00,243.80 L329.01,243.80 L329.01,243.86 L332.94,243.86 L332.94,243.99 L334.80,243.99 L334.80,244.05 L337.09,244.05 L337.09,244.12 L339.53,244.12 L339.53,244.20 L343.49,244.20 L343.49,244.33 L346.49,244.33 L346.49,244.43 L349.20,244.43 L349.20,244.51 L353.12,244.51 L353.12,244.64 L355.48,244.64 L355.48,244.71 L358.39,244.71 L358.39,244.81 L361.47,244.81 L361.47,244.91 L365.08,244.91 L365.08,245.02 L368.68,245.02 L368.68,245.14 L372.04,245.14 L372.04,245.24 L374.67,245.24 L374.67,245.33 L377.26,245.33 L377.26,245.41 L379.43,245.41 L379.43,245.48 L383.25,245.48 L383.25,245.75 L386.64,245.75 L386.64,246.02 L390.22,246.02 L390.22,246.30 L392.43,246.30 L392.43,246.47 L395.28,246.47 L395.28,246.69 L398.94,246.69 L398.94,246.98 L402.13,246.98 L402.13,247.23 L404.23,247.23 L404.23,247.39 L407.14,247.39 L407.14,247.62 L411.06,247.62 L411.06,247.92 L413.43,247.92 L413.43,248.11 L415.69,248.11 L415.69,248.28 L418.22,248.28 L418.22,248.48 L421.71,248.48 L421.71,248.75 L425.53,248.75 L425.53,249.05 L427.70,249.05 L427.70,249.22 L429.88,249.22 L429.88,249.39 L432.27,249.39 L432.27,249.58 L434.85,249.58 L434.85,249.78 L437.91,249.78 L437.91,250.02 L440.09,250.02 L440.09,250.21 L442.68,250.21 L442.68,250.44 L444.93,250.44 L444.93,250.63 L449.08,250.63 L449.08,251.00 L452.62,251.00 L452.62,251.31 L454.67,251.31 L454.67,251.49 L458.78,251.49 L458.78,251.85 L460.82,251.85 L460.82,256.30 L474.00,256.30 L474.00,266.80 L460.94,266.80 L460.94,257.24 L457.52,257.24 L457.52,256.99 L454.74,256.99 L454.74,256.71 L451.45,256.71 L451.45,256.45 L448.55,256.45 L448.55,256.21 L445.74,256.21 L445.74,255.99 L443.34,255.99 L443.34,255.70 L440.03,255.70 L440.03,255.38 L436.52,255.38 L436.52,254.99 L432.84,254.99 L432.84,254.70 L430.03,254.70 L430.03,254.49 L428.00,254.49 L428.00,254.15 L424.69,254.15 L424.69,253.88 L422.14,253.88 L422.14,253.58 L419.25,253.58 L419.25,253.23 L415.91,253.23 L415.91,252.88 L412.48,252.88 L412.48,252.48 L408.63,252.48 L408.63,252.12 L405.15,252.12 L405.15,251.73 L401.49,251.73 L401.49,251.33 L397.58,251.33 L397.58,250.96 L394.05,250.96 L394.05,250.72 L391.70,250.72 L391.70,250.42 L388.89,250.42 L388.89,250.05 L385.29,250.05 L385.29,249.72 L382.11,249.72 L382.11,249.44 L379.28,249.44 L379.28,249.08 L375.30,249.08 L375.30,248.77 L371.72,248.77 L371.72,248.52 L368.95,248.52 L368.95,248.23 L365.70,248.23 L365.70,248.04 L363.56,248.04 L363.56,247.78 L360.65,247.78 L360.65,247.49 L357.33,247.49 L357.33,247.22 L354.33,247.22 L354.33,246.92 L350.87,246.92 L350.87,246.59 L347.17,246.59 L347.17,246.34 L344.41,246.34 L344.41,246.18 L342.53,246.18 L342.53,245.93 L339.80,245.93 L339.80,245.73 L337.50,245.73 L337.50,245.55 L335.45,245.55 L335.45,245.25 L332.11,245.25 L332.11,245.05 L329.84,245.05 L329.84,244.80 L327.00,244.80 Z" fill="#cfe6b8" fill-opacity="0.7"/>
<path d="M327.00,243.60 L329.73,243.60 L329.73,243.67 L332.71,243.67 L332.71,243.75 L336.85,243.75 L336.85,243.86 L341.84,243.86 L341.84,243.99 L344.03,243.99 L344.03,244.05 L347.71,244.05 L347.71,244.15 L351.76,244.15 L351.76,244.25 L354.81,244.25 L354.81,244.33 L356.85,244.33 L356.85,244.39 L360.03,244.39 L360.03,244.47 L363.13,244.47 L363.13,244.55 L366.65,244.55 L366.65,244.65 L369.68,244.65 L369.68,244.73 L373.01,244.73 L373.01,244.82 L376.80,244.82 L376.80,244.92 L379.86,244.92 L379.86,245.00 L382.64,245.00 L382.64,245.23 L386.72,245.23 L386.72,245.58 L389.02,245.58 L389.02,245.78 L392.46,245.78 L392.46,246.08 L395.20,246.08 L395.20,246.32 L398.83,246.32 L398.83,246.63 L400.93,246.63 L400.93,246.81 L405.09,246.81 L405.09,247.17 L407.74,247.17 L407.74,247.40 L409.68,247.40 L409.68,247.57 L412.14,247.57 L412.14,247.78 L414.90,247.78 L414.90,248.02 L416.73,248.02 L416.73,248.18 L419.53,248.18 L419.53,248.43 L422.34,248.43 L422.34,248.67 L425.82,248.67 L425.82,248.97 L428.46,248.97 L428.46,249.20 L430.90,249.20 L430.90,249.41 L433.24,249.41 L433.24,249.61 L436.82,249.61 L436.82,249.92 L440.88,249.92 L440.88,250.14 L443.94,250.14 L443.94,250.27 L446.27,250.27 L446.27,250.37 L449.99,250.37 L449.99,250.53 L452.73,250.53 L452.73,250.65 L455.04,250.65 L455.04,250.75 L457.15,250.75 L457.15,250.84 L460.81,250.84 L460.81,251.00 L477.00,251.00 L477.00,258.00 L460.99,258.00 L460.99,257.70 L458.83,257.70 L458.83,257.30 L456.20,257.30 L456.20,256.75 L452.53,256.75 L452.53,256.39 L450.17,256.39 L450.17,256.07 L448.03,256.07 L448.03,255.76 L445.99,255.76 L445.99,255.39 L443.59,255.39 L443.59,254.88 L440.21,254.88 L440.21,254.34 L436.13,254.34 L436.13,254.15 L434.30,254.15 L434.30,253.96 L432.46,253.96 L432.46,253.61 L429.14,253.61 L429.14,253.22 L425.35,253.22 L425.35,252.99 L423.21,252.99 L423.21,252.61 L419.53,252.61 L419.53,252.20 L415.56,252.20 L415.56,251.80 L411.77,251.80 L411.77,251.60 L409.83,251.60 L409.83,251.20 L405.98,251.20 L405.98,250.78 L401.95,250.78 L401.95,250.51 L399.28,250.51 L399.28,250.15 L395.90,250.15 L395.90,249.81 L392.57,249.81 L392.57,249.51 L389.74,249.51 L389.74,249.21 L386.79,249.21 L386.79,248.94 L384.27,248.94 L384.27,248.70 L381.88,248.70 L381.88,248.46 L379.41,248.46 L379.41,248.19 L375.87,248.19 L375.87,248.05 L374.07,248.05 L374.07,247.88 L371.82,247.88 L371.82,247.67 L369.00,247.67 L369.00,247.49 L366.59,247.49 L366.59,247.28 L363.89,247.28 L363.89,247.10 L361.44,247.10 L361.44,246.81 L357.60,246.81 L357.60,246.61 L354.95,246.61 L354.95,246.32 L351.15,246.32 L351.15,246.16 L349.05,246.16 L349.05,245.93 L345.93,245.93 L345.93,245.74 L343.43,245.74 L343.43,245.52 L340.50,245.52 L340.50,245.24 L336.75,245.24 L336.75,244.95 L332.98,244.95 L332.98,244.70 L329.65,244.70 L329.65,244.50 L327.00,244.50 Z" fill="#cdb8de" fill-opacity="0.6"/>
<path d="M290.1,243.8 H327" stroke="#7cc24e" stroke-width="1"/>
<path d="M302.30,244.30 L304.75,244.30 L304.75,247.08 L307.02,247.08 L307.02,248.63 L309.65,248.63 L309.65,248.96 L312.11,248.96 L312.11,249.26 L314.65,249.26 L314.65,249.58 L316.17,249.58 L316.17,249.77 L318.48,249.77 L318.48,250.06 L320.53,250.06 L320.53,250.32 L322.91,250.32 L322.91,250.96 L324.82,250.96 L324.82,251.91 L327.43,251.91 L327.43,253.21 L329.52,253.21 L329.52,254.26 L331.14,254.26 L331.14,254.96 L332.71,254.96 L332.71,255.59 L334.14,255.59 L334.14,256.15 L336.13,256.15 L336.13,257.51 L337.42,257.51 L337.42,258.68 L339.37,258.68 L339.37,259.87 L340.80,259.87 L340.80,260.57 L342.78,260.57 L342.78,261.51 L344.78,261.51 L344.78,261.84 L346.84,261.84 L346.84,262.17 L349.42,262.17 L349.42,262.59 L350.63,262.59 L350.63,262.79 L353.18,262.79 L353.18,263.20 L355.13,263.20 L355.13,263.53 L357.23,263.53 L357.23,263.98 L359.49,263.98 L359.49,264.46 L362.04,264.46 L362.04,265.01 L363.84,265.01 L363.84,265.64 L365.71,265.64 L365.71,266.30 L368.45,266.30 L368.45,267.26 L369.77,267.26 L369.77,267.72 L371.99,267.72 L371.99,268.50 L374.20,268.50 L374.20,269.28 L375.45,269.28 L375.45,269.72 L377.62,269.72 L377.62,270.81 L379.92,270.81 L379.92,271.96 L382.61,271.96 L382.61,273.30 L384.34,273.30 L384.34,274.17 L387.11,274.17 L387.11,275.28 L389.12,275.28 L389.12,275.51 L394.99,275.51 L394.99,275.56 L399.54,275.56 L399.54,279.30 L403.86,279.30 L403.86,279.36 L407.60,279.36 L407.60,279.42 L412.08,279.42 L412.08,279.48 L413.62,279.48 L413.62,281.98 L415.51,281.98 L415.51,283.80 L438.69,283.80 L438.69,283.86 L459.32,283.86 L459.32,288.40 L466.20,288.40" fill="none" stroke="#2c4f8c" stroke-width="0.9"/>
<path d="M309.50,247.83V249.43M314.48,248.46V250.06M318.36,248.97V250.57M322.41,249.52V251.12M326.92,251.11V252.71M331.85,254.16V255.76M335.75,255.35V256.95M339.65,259.07V260.67M343.60,260.71V262.31M347.79,261.37V262.97M351.62,261.99V263.59M355.76,262.73V264.33M358.25,263.18V264.78M362.33,264.21V265.81M365.69,264.84V266.44M370.11,266.92V268.52M372.21,267.70V269.30M374.60,268.48V270.08M376.47,268.92V270.52M380.94,271.16V272.76M385.88,273.37V274.97M389.93,274.71V276.31M392.97,274.71V276.31M397.60,274.76V276.36M402.10,278.50V280.10M405.82,278.56V280.16M408.47,278.62V280.22M411.28,278.62V280.22M414.51,281.18V282.78M417.37,283.00V284.60M420.63,283.00V284.60M424.62,283.00V284.60M429.64,283.00V284.60M431.58,283.00V284.60M435.32,283.00V284.60M437.21,283.00V284.60M439.37,283.06V284.66M443.96,283.06V284.66M447.72,283.06V284.66M452.69,283.06V284.66M456.00,283.06V284.66M457.80,283.06V284.66M460.91,287.60V289.20M464.73,287.60V289.20" stroke="#2c4f8c" stroke-width="0.8" fill="none"/>
<path d="M302.30,244.30 L305.07,244.30 L305.07,245.20 L307.03,245.20 L307.03,245.65 L308.89,245.65 L308.89,245.91 L310.25,245.91 L310.25,246.10 L312.48,246.10 L312.48,246.41 L314.02,246.41 L314.02,246.68 L315.47,246.68 L315.47,247.16 L316.69,247.16 L316.69,247.58 L317.90,247.58 L317.90,247.99 L320.19,247.99 L320.19,248.77 L321.59,248.77 L321.59,249.27 L324.33,249.27 L324.33,250.26 L325.68,250.26 L325.68,250.74 L328.27,250.74 L328.27,251.68 L329.67,251.68 L329.67,252.18 L330.90,252.18 L330.90,252.48 L333.25,252.48 L333.25,252.95 L334.84,252.95 L334.84,253.27 L337.21,253.27 L337.21,253.74 L338.71,253.74 L338.71,254.04 L339.99,254.04 L339.99,254.30 L342.43,254.30 L342.43,254.54 L344.77,254.54 L344.77,254.78 L347.34,254.78 L347.34,255.03 L349.71,255.03 L349.71,255.27 L351.04,255.27 L351.04,255.40 L353.25,255.40 L353.25,255.63 L355.59,255.63 L355.59,255.94 L357.52,255.94 L357.52,256.41 L360.21,256.41 L360.21,257.07 L361.82,257.07 L361.82,257.46 L364.56,257.46 L364.56,257.85 L366.91,257.85 L366.91,258.16 L368.13,258.16 L368.13,258.33 L369.35,258.33 L369.35,258.49 L371.59,258.49 L371.59,258.79 L374.10,258.79 L374.10,259.13 L375.43,259.13 L375.43,259.31 L377.13,259.31 L377.13,259.54 L379.49,259.54 L379.49,259.86 L380.96,259.86 L380.96,260.06 L383.54,260.06 L383.54,260.40 L385.52,260.40 L385.52,260.66 L386.81,260.66 L386.81,260.83 L388.60,260.83 L388.60,261.05 L390.72,261.05 L390.72,261.32 L392.62,261.32 L392.62,261.56 L394.90,261.56 L394.90,261.84 L396.34,261.84 L396.34,262.02 L398.81,262.02 L398.81,262.33 L400.59,262.33 L400.59,262.55 L402.82,262.55 L402.82,262.83 L405.03,262.83 L405.03,263.11 L406.90,263.11 L406.90,263.35 L408.72,263.35 L408.72,263.57 L411.18,263.57 L411.18,263.88 L413.89,263.88 L413.89,264.22 L416.34,264.22 L416.34,264.53 L418.45,264.53 L418.45,264.79 L420.12,264.79 L420.12,264.88 L421.42,264.88 L421.42,264.95 L424.17,264.95 L424.17,265.10 L426.50,265.10 L426.50,265.22 L429.02,265.22 L429.02,265.35 L430.75,265.35 L430.75,265.44 L432.92,265.44 L432.92,265.55 L435.69,265.55 L435.69,265.70 L438.22,265.70 L438.22,265.83 L440.38,265.83 L440.38,266.68 L442.07,266.68 L442.07,267.82 L443.96,267.82 L443.96,267.87 L446.58,267.87 L446.58,267.95 L448.38,267.95 L448.38,268.70 L450.68,268.70 L450.68,269.70 L473.30,269.70" fill="none" stroke="#c0143c" stroke-width="0.9"/>
<path d="M309.00,245.11V246.71M312.94,245.61V247.21M317.04,246.78V248.38M320.25,247.97V249.57M322.57,248.47V250.07M326.63,249.94V251.54M330.55,251.38V252.98M334.10,252.15V253.75M338.34,252.94V254.54M340.88,253.50V255.10M342.64,253.74V255.34M345.80,253.98V255.58M349.69,254.23V255.83M351.79,254.60V256.20M355.54,254.83V256.43M359.84,255.61V257.21M362.04,256.66V258.26M365.36,257.05V258.65M368.90,257.53V259.13M371.79,257.99V259.59M373.91,257.99V259.59M376.18,258.51V260.11M379.93,259.06V260.66M383.80,259.60V261.20M386.68,259.86V261.46M388.45,260.03V261.63M392.37,260.52V262.12M396.18,261.04V262.64M398.38,261.22V262.82M401.62,261.75V263.35M405.81,262.31V263.91M409.97,262.77V264.37M413.03,263.08V264.68M415.96,263.42V265.02M419.23,263.99V265.59M421.30,264.08V265.68M423.37,264.15V265.75M425.42,264.30V265.90M429.02,264.42V266.02M431.61,264.64V266.24M434.80,264.75V266.35M437.51,264.90V266.50M440.56,265.88V267.48M442.51,267.02V268.62M444.14,267.07V268.67M448.63,267.90V269.50M451.25,268.90V270.50M453.07,268.90V270.50M456.47,268.90V270.50M460.33,268.90V270.50M462.30,268.90V270.50M465.59,268.90V270.50M468.13,268.90V270.50M471.19,268.90V270.50M472.75,268.90V270.50" stroke="#c0143c" stroke-width="0.8" fill="none"/>
<path d="M327.00,243.90 L329.78,243.90 L329.78,244.05 L332.37,244.05 L332.37,244.19 L334.35,244.19 L334.35,244.30 L336.46,244.30 L336.46,244.42 L338.07,244.42 L338.07,244.51 L340.52,244.51 L340.52,244.64 L342.40,244.64 L342.40,244.74 L345.12,244.74 L345.12,244.89 L347.54,244.89 L347.54,245.02 L350.05,245.02 L350.05,245.16 L352.80,245.16 L352.80,245.31 L354.40,245.31 L354.40,245.40 L355.66,245.40 L355.66,245.47 L357.19,245.47 L357.19,245.55 L358.67,245.55 L358.67,245.63 L360.01,245.63 L360.01,245.71 L361.29,245.71 L361.29,245.78 L363.38,245.78 L363.38,245.89 L365.97,245.89 L365.97,246.03 L367.91,246.03 L367.91,246.14 L370.62,246.14 L370.62,246.29 L373.28,246.29 L373.28,246.43 L374.58,246.43 L374.58,246.50 L376.74,246.50 L376.74,246.62 L378.57,246.62 L378.57,246.72 L379.97,246.72 L379.97,246.80 L382.70,246.80 L382.70,247.05 L384.31,247.05 L384.31,247.20 L386.42,247.20 L386.42,247.40 L388.64,247.40 L388.64,247.61 L391.37,247.61 L391.37,247.86 L393.64,247.86 L393.64,248.08 L395.47,248.08 L395.47,248.25 L397.39,248.25 L397.39,248.43 L398.84,248.43 L398.84,248.56 L401.59,248.56 L401.59,248.82 L404.38,248.82 L404.38,249.08 L405.93,249.08 L405.93,249.23 L407.19,249.23 L407.19,249.34 L408.80,249.34 L408.80,249.50 L410.57,249.50 L410.57,249.66 L413.21,249.66 L413.21,249.91 L415.86,249.91 L415.86,250.16 L418.40,250.16 L418.40,250.39 L419.67,250.39 L419.67,250.51 L422.13,250.51 L422.13,250.74 L424.47,250.74 L424.47,250.96 L426.70,250.96 L426.70,251.17 L429.48,251.17 L429.48,251.43 L430.77,251.43 L430.77,251.55 L432.20,251.55 L432.20,251.69 L434.61,251.69 L434.61,251.91 L437.31,251.91 L437.31,252.16 L439.59,252.16 L439.59,252.36 L441.27,252.36 L441.27,252.51 L443.42,252.51 L443.42,252.69 L445.83,252.69 L445.83,252.90 L447.20,252.90 L447.20,253.02 L448.92,253.02 L448.92,253.17 L450.53,253.17 L450.53,253.31 L451.93,253.31 L451.93,253.43 L453.90,253.43 L453.90,253.60 L455.37,253.60 L455.37,253.73 L456.95,253.73 L456.95,253.87 L458.38,253.87 L458.38,253.99 L460.66,253.99 L460.66,254.19 L464.23,254.19 L464.23,254.26 L467.00,254.26 L467.00,254.31 L471.24,254.31 L471.24,254.39 L476.52,254.39 L476.52,254.49 L477.00,254.49" fill="none" stroke="#5b2a86" stroke-width="0.9"/>
<path d="M327.00,244.80 L328.42,244.80 L328.42,244.89 L330.34,244.89 L330.34,245.00 L331.69,245.00 L331.69,245.08 L334.38,245.08 L334.38,245.25 L336.93,245.25 L336.93,245.40 L339.13,245.40 L339.13,245.53 L341.06,245.53 L341.06,245.65 L342.80,245.65 L342.80,245.75 L345.32,245.75 L345.32,245.91 L347.28,245.91 L347.28,246.02 L349.49,246.02 L349.49,246.16 L350.92,246.16 L350.92,246.24 L352.47,246.24 L352.47,246.34 L353.76,246.34 L353.76,246.42 L356.10,246.42 L356.10,246.56 L358.19,246.56 L358.19,246.68 L359.62,246.68 L359.62,246.77 L362.21,246.77 L362.21,246.93 L363.84,246.93 L363.84,247.02 L365.70,247.02 L365.70,247.14 L367.15,247.14 L367.15,247.22 L368.78,247.22 L368.78,247.32 L371.32,247.32 L371.32,247.48 L373.06,247.48 L373.06,247.58 L374.53,247.58 L374.53,247.67 L376.51,247.67 L376.51,247.79 L378.22,247.79 L378.22,247.89 L380.87,247.89 L380.87,248.08 L382.25,248.08 L382.25,248.21 L385.02,248.21 L385.02,248.46 L386.31,248.46 L386.31,248.58 L388.94,248.58 L388.94,248.82 L391.21,248.82 L391.21,249.03 L392.75,249.03 L392.75,249.17 L394.71,249.17 L394.71,249.35 L396.37,249.35 L396.37,249.50 L397.98,249.50 L397.98,249.65 L399.50,249.65 L399.50,249.79 L401.29,249.79 L401.29,249.96 L404.07,249.96 L404.07,250.21 L406.87,250.21 L406.87,250.47 L409.55,250.47 L409.55,250.71 L410.90,250.71 L410.90,250.84 L412.57,250.84 L412.57,250.99 L415.20,250.99 L415.20,251.23 L416.49,251.23 L416.49,251.35 L418.86,251.35 L418.86,251.57 L420.53,251.57 L420.53,251.72 L423.29,251.72 L423.29,251.98 L424.52,251.98 L424.52,252.09 L427.01,252.09 L427.01,252.32 L428.75,252.32 L428.75,252.48 L430.18,252.48 L430.18,252.61 L431.38,252.61 L431.38,252.72 L433.91,252.72 L433.91,252.95 L435.96,252.95 L435.96,253.14 L437.45,253.14 L437.45,253.28 L439.35,253.28 L439.35,253.44 L442.01,253.44 L442.01,253.68 L443.56,253.68 L443.56,253.81 L445.67,253.81 L445.67,254.00 L447.09,254.00 L447.09,254.12 L448.58,254.12 L448.58,254.25 L451.01,254.25 L451.01,254.47 L453.35,254.47 L453.35,254.67 L454.87,254.67 L454.87,254.81 L456.19,254.81 L456.19,254.92 L457.53,254.92 L457.53,255.04 L459.71,255.04 L459.71,255.23 L461.70,255.23 L461.70,259.70 L474.20,259.70" fill="none" stroke="#78c044" stroke-width="1.1"/>
<path d="M332.60,244.08V246.08M334.07,244.08V246.08M337.28,244.40V246.40M339.64,244.53V246.53M342.81,244.75V246.75M344.26,244.75V246.75M347.66,245.02V247.02M349.84,245.16V247.16M353.33,245.34V247.34M356.87,245.56V247.56M359.46,245.68V247.68M360.80,245.77V247.77M364.46,246.02V248.02M367.00,246.14V248.14M370.57,246.32V248.32M372.56,246.48V248.48M374.34,246.58V248.58M377.81,246.79V248.79M380.06,246.89V248.89M381.79,247.08V249.08M384.05,247.21V249.21M386.90,247.58V249.58M388.21,247.58V249.58M390.86,247.82V249.82M393.32,248.17V250.17M395.96,248.35V250.35M397.57,248.50V250.50M400.73,248.79V250.79M404.16,249.21V251.21M407.71,249.47V251.47M409.84,249.71V251.71M412.99,249.99V251.99M415.28,250.23V252.23M418.53,250.35V252.35M419.99,250.57V252.57M423.56,250.98V252.98M427.34,251.32V253.32M429.93,251.48V253.48M432.56,251.72V253.72M435.24,251.95V253.95M437.94,252.28V254.28M439.29,252.28V254.28M443.11,252.68V254.68M444.99,252.81V254.81M446.77,253.00V255.00M448.33,253.12V255.12M450.28,253.25V255.25M453.71,253.67V255.67M455.09,253.81V255.81M456.64,253.92V255.92M459.76,254.23V256.23M461.56,254.23V256.23M462.91,258.70V260.70M465.77,258.70V260.70M468.57,258.70V260.70M471.23,258.70V260.70" stroke="#78c044" stroke-width="0.8" fill="none"/>
<path d="M329.80,243.02V244.92M332.64,243.17V245.07M334.79,243.36V245.26M337.50,243.44V245.34M340.39,243.66V245.56M342.21,243.75V245.65M343.95,243.83V245.73M345.72,243.93V245.83M347.94,244.00V245.90M350.48,244.12V246.02M352.69,244.34V246.24M354.77,244.46V246.36M356.42,244.46V246.36M359.35,244.67V246.57M363.10,244.81V246.71M366.21,245.05V246.95M369.20,245.16V247.06M372.42,245.41V247.31M374.39,245.51V247.41M377.78,245.66V247.56M380.47,245.79V247.69M383.40,246.06V247.96M386.52,246.40V248.30M389.23,246.66V248.56M391.50,246.89V248.79M393.58,246.89V248.79M395.60,247.14V249.04M398.43,247.37V249.27M400.90,247.73V249.63M403.94,247.92V249.82M405.38,248.18V250.08M407.77,248.43V250.33M411.58,248.76V250.66M413.65,248.96V250.86M416.61,249.13V251.03M419.38,249.44V251.34M421.58,249.62V251.52M425.74,250.06V251.96M427.97,250.31V252.21M431.53,250.54V252.44M433.38,250.80V252.70M434.96,250.80V252.70M438.80,251.24V253.14M441.44,251.46V253.36M443.01,251.69V253.59M445.50,251.80V253.70M448.13,252.13V254.03M451.59,252.33V254.23M453.29,252.47V254.37M455.32,252.65V254.55M459.41,253.07V254.97M462.88,253.28V255.18M464.71,253.28V255.18M467.05,253.36V255.26M469.44,253.36V255.26M472.73,253.43V255.33M475.86,253.49V255.39" stroke="#6a3a96" stroke-width="0.8" fill="none"/>
</g>
<rect x="302.30" y="375.20" width="158.10" height="33.00" fill="#fff" stroke="#cfcfcf" stroke-width="0.7" rx="1"/>
<text x="328.70" y="382.20" font-size="4.37" text-anchor="middle" textLength="28.48" lengthAdjust="spacingAndGlyphs" stroke="#222" stroke-width="0.04">No. of Subjects</text>
<text x="360.40" y="382.20" font-size="4.37" text-anchor="middle" textLength="10.74" lengthAdjust="spacingAndGlyphs" stroke="#222" stroke-width="0.04">Event</text>
<text x="390.80" y="382.20" font-size="4.37" text-anchor="middle" textLength="18.21" lengthAdjust="spacingAndGlyphs" stroke="#222" stroke-width="0.04">Censored</text>
<text x="433.50" y="382.20" font-size="4.37" text-anchor="middle" textLength="47.62" lengthAdjust="spacingAndGlyphs" stroke="#222" stroke-width="0.04">Median Survival (95% CI)</text>
<text x="306.50" y="387.70" font-size="4.37" text-anchor="middle" textLength="2.34" lengthAdjust="spacingAndGlyphs" stroke="#222" stroke-width="0.04">1</text>
<text x="328.70" y="387.70" font-size="4.37" text-anchor="middle" textLength="7.01" lengthAdjust="spacingAndGlyphs" stroke="#222" stroke-width="0.04">134</text>
<text x="360.40" y="387.70" font-size="4.37" text-anchor="middle" textLength="21.71" lengthAdjust="spacingAndGlyphs" stroke="#222" stroke-width="0.04">29.9 % (40)</text>
<text x="390.80" y="387.70" font-size="4.37" text-anchor="middle" textLength="21.71" lengthAdjust="spacingAndGlyphs" stroke="#222" stroke-width="0.04">70.1 % (94)</text>
<text x="433.50" y="387.70" font-size="4.37" text-anchor="middle" textLength="22.88" lengthAdjust="spacingAndGlyphs" stroke="#222" stroke-width="0.04">Not reached</text>
<text x="306.50" y="393.20" font-size="4.37" text-anchor="middle" textLength="2.34" lengthAdjust="spacingAndGlyphs" stroke="#222" stroke-width="0.04">2</text>
<text x="328.70" y="393.20" font-size="4.37" text-anchor="middle" textLength="4.67" lengthAdjust="spacingAndGlyphs" stroke="#222" stroke-width="0.04">72</text>
<text x="360.40" y="393.20" font-size="4.37" text-anchor="middle" textLength="21.71" lengthAdjust="spacingAndGlyphs" stroke="#222" stroke-width="0.04">48.6 % (35)</text>
<text x="390.80" y="393.20" font-size="4.37" text-anchor="middle" textLength="21.71" lengthAdjust="spacingAndGlyphs" stroke="#222" stroke-width="0.04">51.4 % (37)</text>
<text x="433.50" y="393.20" font-size="4.37" text-anchor="middle" textLength="24.98" lengthAdjust="spacingAndGlyphs" stroke="#222" stroke-width="0.04">7.8 (5.8 ; NA)</text>
<text x="306.50" y="398.90" font-size="4.37" text-anchor="middle" textLength="2.34" lengthAdjust="spacingAndGlyphs" stroke="#222" stroke-width="0.04">3</text>
<text x="328.70" y="398.90" font-size="4.37" text-anchor="middle" textLength="7.01" lengthAdjust="spacingAndGlyphs" stroke="#222" stroke-width="0.04">369</text>
<text x="360.40" y="398.90" font-size="4.37" text-anchor="middle" textLength="21.4" lengthAdjust="spacingAndGlyphs" stroke="#222" stroke-width="0.04">11.7 % (43)</text>
<text x="390.80" y="398.90" font-size="4.37" text-anchor="middle" textLength="24.05" lengthAdjust="spacingAndGlyphs" stroke="#222" stroke-width="0.04">88.3 % (326)</text>
<text x="433.50" y="398.90" font-size="4.37" text-anchor="middle" textLength="22.88" lengthAdjust="spacingAndGlyphs" stroke="#222" stroke-width="0.04">Not reached</text>
<text x="306.50" y="404.60" font-size="4.37" text-anchor="middle" textLength="2.34" lengthAdjust="spacingAndGlyphs" stroke="#222" stroke-width="0.04">4</text>
<text x="328.70" y="404.60" font-size="4.37" text-anchor="middle" textLength="7.01" lengthAdjust="spacingAndGlyphs" stroke="#222" stroke-width="0.04">423</text>
<text x="360.40" y="404.60" font-size="4.37" text-anchor="middle" textLength="21.71" lengthAdjust="spacingAndGlyphs" stroke="#222" stroke-width="0.04">12.1 % (51)</text>
<text x="390.80" y="404.60" font-size="4.37" text-anchor="middle" textLength="24.05" lengthAdjust="spacingAndGlyphs" stroke="#222" stroke-width="0.04">87.9 % (372)</text>
<text x="433.50" y="404.60" font-size="4.37" text-anchor="middle" textLength="22.88" lengthAdjust="spacingAndGlyphs" stroke="#222" stroke-width="0.04">Not reached</text>
<rect x="0.75" y="0.75" width="518.5" height="414.5" fill="none" stroke="#000" stroke-width="1.5"/>
</g></svg>

</body></html>
